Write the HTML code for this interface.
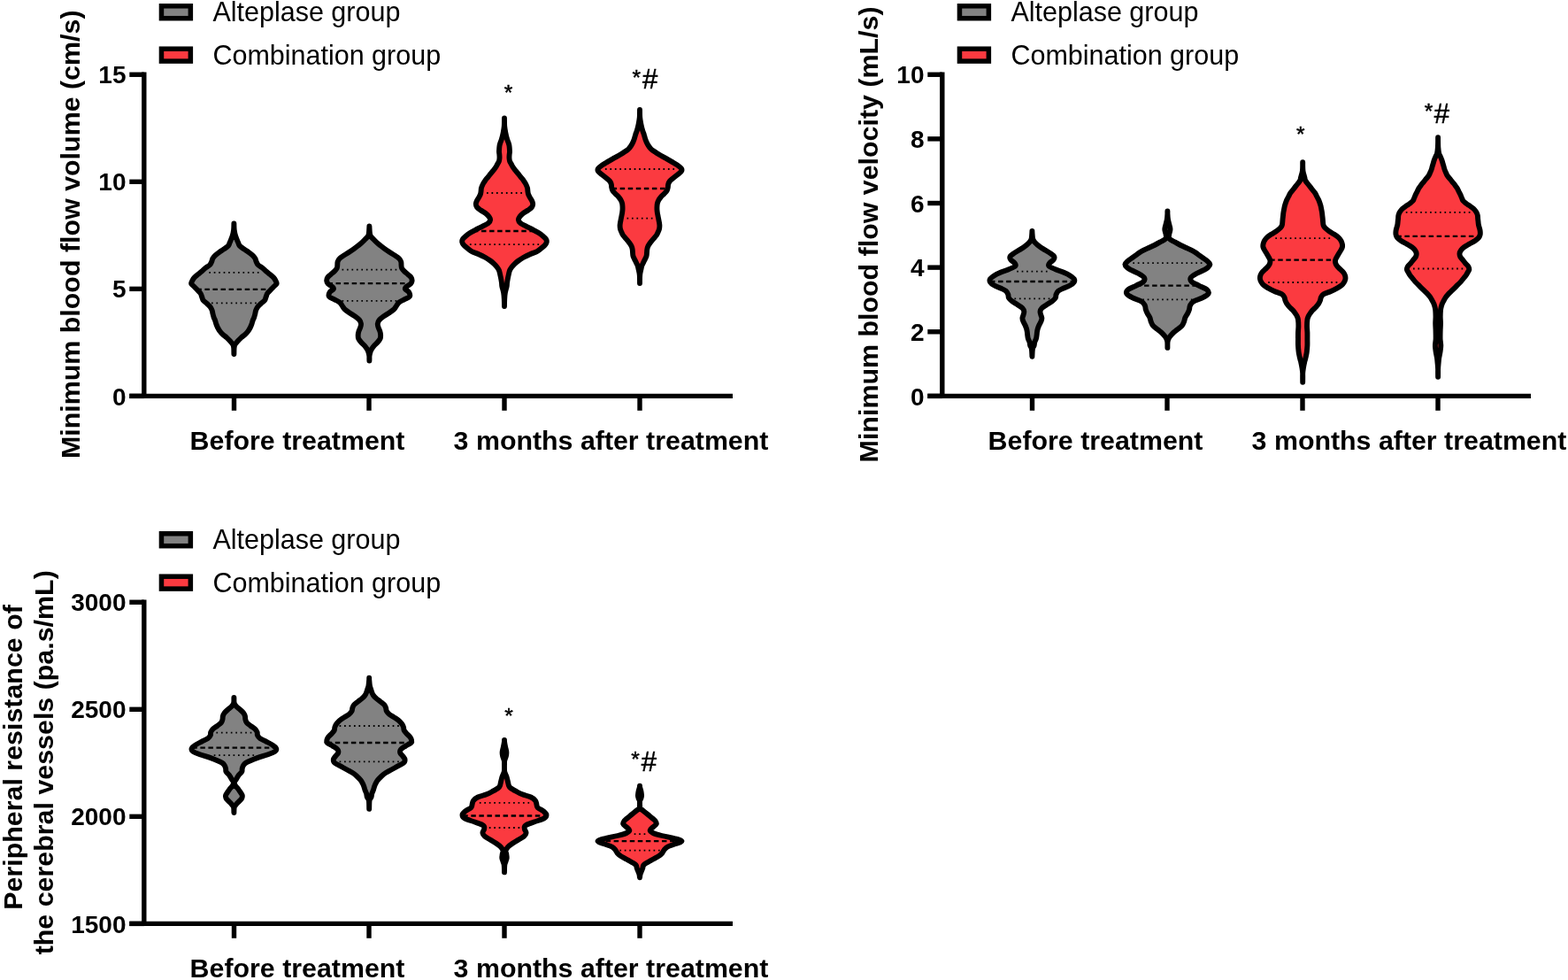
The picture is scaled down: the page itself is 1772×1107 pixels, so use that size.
<!DOCTYPE html>
<html><head><meta charset="utf-8"><title>Violin plots</title>
<style>html,body{margin:0;padding:0;background:#fff;width:1772px;height:1107px;overflow:hidden}svg{display:block}</style>
</head><body>
<svg width="1772" height="1107" viewBox="0 0 1772 1107" font-family="'Liberation Sans', Arial, sans-serif">
<rect width="1772" height="1107" fill="#fff"/>
<line x1="162.8" y1="81.55" x2="162.8" y2="447.4" stroke="#000" stroke-width="5.4"/>
<line x1="146.3" y1="447.4" x2="828" y2="447.4" stroke="#000" stroke-width="5.4"/>
<line x1="146.3" y1="447.4" x2="162.8" y2="447.4" stroke="#000" stroke-width="5.4"/>
<text x="142.5" y="457.5" font-size="28" font-weight="bold" text-anchor="end">0</text>
<line x1="146.3" y1="326.34999999999997" x2="162.8" y2="326.34999999999997" stroke="#000" stroke-width="5.4"/>
<text x="142.5" y="336.45" font-size="28" font-weight="bold" text-anchor="end">5</text>
<line x1="146.3" y1="205.29999999999998" x2="162.8" y2="205.29999999999998" stroke="#000" stroke-width="5.4"/>
<text x="142.5" y="215.39999999999998" font-size="28" font-weight="bold" text-anchor="end">10</text>
<line x1="146.3" y1="84.25000000000006" x2="162.8" y2="84.25000000000006" stroke="#000" stroke-width="5.4"/>
<text x="142.5" y="94.35000000000005" font-size="28" font-weight="bold" text-anchor="end">15</text>
<line x1="264.5" y1="447.4" x2="264.5" y2="463.8" stroke="#000" stroke-width="5.4"/>
<line x1="417" y1="447.4" x2="417" y2="463.8" stroke="#000" stroke-width="5.4"/>
<line x1="570" y1="447.4" x2="570" y2="463.8" stroke="#000" stroke-width="5.4"/>
<line x1="723" y1="447.4" x2="723" y2="463.8" stroke="#000" stroke-width="5.4"/>
<text x="336" y="508.1" font-size="30.35" font-weight="bold" text-anchor="middle">Before treatment</text>
<text x="690.5" y="508.1" font-size="30.35" font-weight="bold" text-anchor="middle">3 months after treatment</text>
<rect x="182.45" y="6.8" width="32.9" height="13.9" fill="#828282" stroke="#000" stroke-width="5.5"/>
<text x="240.4" y="24.4" font-size="30.5">Alteplase group</text>
<rect x="182.45" y="55.199999999999996" width="32.9" height="13.9" fill="#fb3a40" stroke="#000" stroke-width="5.5"/>
<text x="240.4" y="72.8" font-size="30.5">Combination group</text>
<text transform="translate(90.4,264.75) rotate(-90)" font-size="30.4" font-weight="bold" text-anchor="middle">Minimum blood flow volume (cm/s)</text>
<line x1="1064.8" y1="81.55" x2="1064.8" y2="447.4" stroke="#000" stroke-width="5.4"/>
<line x1="1048.3" y1="447.4" x2="1730" y2="447.4" stroke="#000" stroke-width="5.4"/>
<line x1="1048.3" y1="447.4" x2="1064.8" y2="447.4" stroke="#000" stroke-width="5.4"/>
<text x="1044.5" y="457.5" font-size="28" font-weight="bold" text-anchor="end">0</text>
<line x1="1048.3" y1="374.77" x2="1064.8" y2="374.77" stroke="#000" stroke-width="5.4"/>
<text x="1044.5" y="384.87" font-size="28" font-weight="bold" text-anchor="end">2</text>
<line x1="1048.3" y1="302.14" x2="1064.8" y2="302.14" stroke="#000" stroke-width="5.4"/>
<text x="1044.5" y="312.24" font-size="28" font-weight="bold" text-anchor="end">4</text>
<line x1="1048.3" y1="229.51000000000002" x2="1064.8" y2="229.51000000000002" stroke="#000" stroke-width="5.4"/>
<text x="1044.5" y="239.61" font-size="28" font-weight="bold" text-anchor="end">6</text>
<line x1="1048.3" y1="156.88" x2="1064.8" y2="156.88" stroke="#000" stroke-width="5.4"/>
<text x="1044.5" y="166.98" font-size="28" font-weight="bold" text-anchor="end">8</text>
<line x1="1048.3" y1="84.25" x2="1064.8" y2="84.25" stroke="#000" stroke-width="5.4"/>
<text x="1044.5" y="94.35" font-size="28" font-weight="bold" text-anchor="end">10</text>
<line x1="1166.5" y1="447.4" x2="1166.5" y2="463.8" stroke="#000" stroke-width="5.4"/>
<line x1="1319" y1="447.4" x2="1319" y2="463.8" stroke="#000" stroke-width="5.4"/>
<line x1="1472" y1="447.4" x2="1472" y2="463.8" stroke="#000" stroke-width="5.4"/>
<line x1="1625" y1="447.4" x2="1625" y2="463.8" stroke="#000" stroke-width="5.4"/>
<text x="1238" y="508.1" font-size="30.35" font-weight="bold" text-anchor="middle">Before treatment</text>
<text x="1592.5" y="508.1" font-size="30.35" font-weight="bold" text-anchor="middle">3 months after treatment</text>
<rect x="1084.45" y="6.8" width="32.9" height="13.9" fill="#828282" stroke="#000" stroke-width="5.5"/>
<text x="1142.4" y="24.4" font-size="30.5">Alteplase group</text>
<rect x="1084.45" y="55.199999999999996" width="32.9" height="13.9" fill="#fb3a40" stroke="#000" stroke-width="5.5"/>
<text x="1142.4" y="72.8" font-size="30.5">Combination group</text>
<text transform="translate(992.3,264.9) rotate(-90)" font-size="30.4" font-weight="bold" text-anchor="middle">Minimum blood flow velocity (mL/s)</text>
<line x1="162.8" y1="677.55" x2="162.8" y2="1043.4" stroke="#000" stroke-width="5.4"/>
<line x1="146.3" y1="1043.4" x2="828" y2="1043.4" stroke="#000" stroke-width="5.4"/>
<line x1="146.3" y1="1043.4" x2="162.8" y2="1043.4" stroke="#000" stroke-width="5.4"/>
<text x="142.5" y="1053.5" font-size="28" font-weight="bold" text-anchor="end">1500</text>
<line x1="146.3" y1="922.35" x2="162.8" y2="922.35" stroke="#000" stroke-width="5.4"/>
<text x="142.5" y="932.45" font-size="28" font-weight="bold" text-anchor="end">2000</text>
<line x1="146.3" y1="801.3000000000001" x2="162.8" y2="801.3000000000001" stroke="#000" stroke-width="5.4"/>
<text x="142.5" y="811.4000000000001" font-size="28" font-weight="bold" text-anchor="end">2500</text>
<line x1="146.3" y1="680.25" x2="162.8" y2="680.25" stroke="#000" stroke-width="5.4"/>
<text x="142.5" y="690.35" font-size="28" font-weight="bold" text-anchor="end">3000</text>
<line x1="264.5" y1="1043.4" x2="264.5" y2="1059.8" stroke="#000" stroke-width="5.4"/>
<line x1="417" y1="1043.4" x2="417" y2="1059.8" stroke="#000" stroke-width="5.4"/>
<line x1="570" y1="1043.4" x2="570" y2="1059.8" stroke="#000" stroke-width="5.4"/>
<line x1="723" y1="1043.4" x2="723" y2="1059.8" stroke="#000" stroke-width="5.4"/>
<text x="336" y="1104.1" font-size="30.35" font-weight="bold" text-anchor="middle">Before treatment</text>
<text x="690.5" y="1104.1" font-size="30.35" font-weight="bold" text-anchor="middle">3 months after treatment</text>
<rect x="182.45" y="602.8" width="32.9" height="13.9" fill="#828282" stroke="#000" stroke-width="5.5"/>
<text x="240.4" y="620.4" font-size="30.5">Alteplase group</text>
<rect x="182.45" y="651.1999999999999" width="32.9" height="13.9" fill="#fb3a40" stroke="#000" stroke-width="5.5"/>
<text x="240.4" y="668.8" font-size="30.5">Combination group</text>
<text transform="translate(24.6,855.45) rotate(-90)" font-size="30.4" font-weight="bold" text-anchor="middle">Peripheral resistance of</text>
<text transform="translate(60.2,861.3) rotate(-90)" font-size="30.4" font-weight="bold" text-anchor="middle">the cerebral vessels (pa.s/mL)</text>
<path d="M264.40,252.50 C264.45,253.67 264.40,257.13 264.70,259.50 C265.00,261.87 265.47,264.30 266.20,266.70 C266.93,269.10 268.35,272.10 269.10,273.90 C269.85,275.70 269.65,276.28 270.70,277.50 C271.75,278.72 273.70,279.98 275.40,281.20 C277.10,282.42 279.23,283.60 280.90,284.80 C282.57,286.00 284.15,287.20 285.40,288.40 C286.65,289.60 287.70,290.80 288.40,292.00 C289.10,293.20 289.05,294.40 289.60,295.60 C290.15,296.80 290.52,298.00 291.70,299.20 C292.88,300.40 295.18,301.58 296.70,302.80 C298.22,304.02 299.38,305.28 300.80,306.50 C302.22,307.72 303.77,308.90 305.20,310.10 C306.63,311.30 308.33,312.50 309.40,313.70 C310.47,314.90 311.07,316.17 311.60,317.30 C312.13,318.43 312.97,319.42 312.60,320.50 C312.23,321.58 310.57,322.60 309.40,323.80 C308.23,325.00 306.82,326.42 305.60,327.70 C304.38,328.98 302.93,330.22 302.10,331.50 C301.27,332.78 301.10,334.12 300.60,335.40 C300.10,336.68 300.07,337.93 299.10,339.20 C298.13,340.47 296.15,341.72 294.80,343.00 C293.45,344.28 291.95,345.62 291.00,346.90 C290.05,348.18 289.55,349.43 289.10,350.70 C288.65,351.97 288.62,353.22 288.30,354.50 C287.98,355.78 287.65,357.12 287.20,358.40 C286.75,359.68 286.05,360.92 285.60,362.20 C285.15,363.48 284.95,364.82 284.50,366.10 C284.05,367.38 283.55,368.63 282.90,369.90 C282.25,371.17 281.55,372.42 280.60,373.70 C279.65,374.98 278.53,376.32 277.20,377.60 C275.87,378.88 274.02,380.12 272.60,381.40 C271.18,382.68 269.87,384.02 268.70,385.30 C267.53,386.58 266.28,387.83 265.60,389.10 C264.92,390.37 264.80,391.08 264.60,392.90 C264.40,394.72 264.43,398.82 264.40,400.00 L264.40,400.00 C264.37,398.82 264.40,394.72 264.20,392.90 C264.00,391.08 263.88,390.37 263.20,389.10 C262.52,387.83 261.27,386.58 260.10,385.30 C258.93,384.02 257.62,382.68 256.20,381.40 C254.78,380.12 252.93,378.88 251.60,377.60 C250.27,376.32 249.15,374.98 248.20,373.70 C247.25,372.42 246.55,371.17 245.90,369.90 C245.25,368.63 244.75,367.38 244.30,366.10 C243.85,364.82 243.65,363.48 243.20,362.20 C242.75,360.92 242.05,359.68 241.60,358.40 C241.15,357.12 240.82,355.78 240.50,354.50 C240.18,353.22 240.15,351.97 239.70,350.70 C239.25,349.43 238.75,348.18 237.80,346.90 C236.85,345.62 235.35,344.28 234.00,343.00 C232.65,341.72 230.67,340.47 229.70,339.20 C228.73,337.93 228.70,336.68 228.20,335.40 C227.70,334.12 227.53,332.78 226.70,331.50 C225.87,330.22 224.42,328.98 223.20,327.70 C221.98,326.42 220.57,325.00 219.40,323.80 C218.23,322.60 216.57,321.58 216.20,320.50 C215.83,319.42 216.67,318.43 217.20,317.30 C217.73,316.17 218.33,314.90 219.40,313.70 C220.47,312.50 222.17,311.30 223.60,310.10 C225.03,308.90 226.58,307.72 228.00,306.50 C229.42,305.28 230.58,304.02 232.10,302.80 C233.62,301.58 235.92,300.40 237.10,299.20 C238.28,298.00 238.65,296.80 239.20,295.60 C239.75,294.40 239.70,293.20 240.40,292.00 C241.10,290.80 242.15,289.60 243.40,288.40 C244.65,287.20 246.23,286.00 247.90,284.80 C249.57,283.60 251.70,282.42 253.40,281.20 C255.10,279.98 257.05,278.72 258.10,277.50 C259.15,276.28 258.95,275.70 259.70,273.90 C260.45,272.10 261.87,269.10 262.60,266.70 C263.33,264.30 263.80,261.87 264.10,259.50 C264.40,257.13 264.35,253.67 264.40,252.50 Z" fill="#828282" stroke="none"/>
<line x1="236.25" y1="307.9" x2="292.55" y2="307.9" stroke="#000" stroke-width="1.8" stroke-dasharray="1.7 3.76"/>
<line x1="222.32" y1="326.8" x2="306.48" y2="326.8" stroke="#000" stroke-width="2.3" stroke-dasharray="5.5 3.56"/>
<line x1="238.98" y1="342.4" x2="289.82" y2="342.4" stroke="#000" stroke-width="1.8" stroke-dasharray="1.7 3.76"/>
<path d="M264.40,252.50 C264.45,253.67 264.40,257.13 264.70,259.50 C265.00,261.87 265.47,264.30 266.20,266.70 C266.93,269.10 268.35,272.10 269.10,273.90 C269.85,275.70 269.65,276.28 270.70,277.50 C271.75,278.72 273.70,279.98 275.40,281.20 C277.10,282.42 279.23,283.60 280.90,284.80 C282.57,286.00 284.15,287.20 285.40,288.40 C286.65,289.60 287.70,290.80 288.40,292.00 C289.10,293.20 289.05,294.40 289.60,295.60 C290.15,296.80 290.52,298.00 291.70,299.20 C292.88,300.40 295.18,301.58 296.70,302.80 C298.22,304.02 299.38,305.28 300.80,306.50 C302.22,307.72 303.77,308.90 305.20,310.10 C306.63,311.30 308.33,312.50 309.40,313.70 C310.47,314.90 311.07,316.17 311.60,317.30 C312.13,318.43 312.97,319.42 312.60,320.50 C312.23,321.58 310.57,322.60 309.40,323.80 C308.23,325.00 306.82,326.42 305.60,327.70 C304.38,328.98 302.93,330.22 302.10,331.50 C301.27,332.78 301.10,334.12 300.60,335.40 C300.10,336.68 300.07,337.93 299.10,339.20 C298.13,340.47 296.15,341.72 294.80,343.00 C293.45,344.28 291.95,345.62 291.00,346.90 C290.05,348.18 289.55,349.43 289.10,350.70 C288.65,351.97 288.62,353.22 288.30,354.50 C287.98,355.78 287.65,357.12 287.20,358.40 C286.75,359.68 286.05,360.92 285.60,362.20 C285.15,363.48 284.95,364.82 284.50,366.10 C284.05,367.38 283.55,368.63 282.90,369.90 C282.25,371.17 281.55,372.42 280.60,373.70 C279.65,374.98 278.53,376.32 277.20,377.60 C275.87,378.88 274.02,380.12 272.60,381.40 C271.18,382.68 269.87,384.02 268.70,385.30 C267.53,386.58 266.28,387.83 265.60,389.10 C264.92,390.37 264.80,391.08 264.60,392.90 C264.40,394.72 264.43,398.82 264.40,400.00 L264.40,400.00 C264.37,398.82 264.40,394.72 264.20,392.90 C264.00,391.08 263.88,390.37 263.20,389.10 C262.52,387.83 261.27,386.58 260.10,385.30 C258.93,384.02 257.62,382.68 256.20,381.40 C254.78,380.12 252.93,378.88 251.60,377.60 C250.27,376.32 249.15,374.98 248.20,373.70 C247.25,372.42 246.55,371.17 245.90,369.90 C245.25,368.63 244.75,367.38 244.30,366.10 C243.85,364.82 243.65,363.48 243.20,362.20 C242.75,360.92 242.05,359.68 241.60,358.40 C241.15,357.12 240.82,355.78 240.50,354.50 C240.18,353.22 240.15,351.97 239.70,350.70 C239.25,349.43 238.75,348.18 237.80,346.90 C236.85,345.62 235.35,344.28 234.00,343.00 C232.65,341.72 230.67,340.47 229.70,339.20 C228.73,337.93 228.70,336.68 228.20,335.40 C227.70,334.12 227.53,332.78 226.70,331.50 C225.87,330.22 224.42,328.98 223.20,327.70 C221.98,326.42 220.57,325.00 219.40,323.80 C218.23,322.60 216.57,321.58 216.20,320.50 C215.83,319.42 216.67,318.43 217.20,317.30 C217.73,316.17 218.33,314.90 219.40,313.70 C220.47,312.50 222.17,311.30 223.60,310.10 C225.03,308.90 226.58,307.72 228.00,306.50 C229.42,305.28 230.58,304.02 232.10,302.80 C233.62,301.58 235.92,300.40 237.10,299.20 C238.28,298.00 238.65,296.80 239.20,295.60 C239.75,294.40 239.70,293.20 240.40,292.00 C241.10,290.80 242.15,289.60 243.40,288.40 C244.65,287.20 246.23,286.00 247.90,284.80 C249.57,283.60 251.70,282.42 253.40,281.20 C255.10,279.98 257.05,278.72 258.10,277.50 C259.15,276.28 258.95,275.70 259.70,273.90 C260.45,272.10 261.87,269.10 262.60,266.70 C263.33,264.30 263.80,261.87 264.10,259.50 C264.40,257.13 264.35,253.67 264.40,252.50 Z" fill="none" stroke="#000" stroke-width="5.9" stroke-linejoin="round" stroke-linecap="round"/>
<path d="M417.40,255.50 C417.48,256.77 417.65,261.23 417.90,263.10 C418.15,264.97 418.20,265.50 418.90,266.70 C419.60,267.90 420.97,269.10 422.10,270.30 C423.23,271.50 424.37,272.70 425.70,273.90 C427.03,275.10 428.58,276.30 430.10,277.50 C431.62,278.70 433.12,279.88 434.80,281.10 C436.48,282.32 438.33,283.58 440.20,284.80 C442.07,286.02 444.20,287.20 446.00,288.40 C447.80,289.60 449.80,290.80 451.00,292.00 C452.20,293.20 452.78,294.40 453.20,295.60 C453.62,296.80 453.37,298.00 453.50,299.20 C453.63,300.40 453.45,301.60 454.00,302.80 C454.55,304.00 455.62,305.18 456.80,306.40 C457.98,307.62 459.77,308.88 461.10,310.10 C462.43,311.32 464.05,312.50 464.80,313.70 C465.55,314.90 465.70,316.17 465.60,317.30 C465.50,318.43 465.32,319.35 464.20,320.50 C463.08,321.65 459.93,323.18 458.90,324.20 C457.87,325.22 457.47,325.63 458.00,326.60 C458.53,327.57 461.28,328.60 462.10,330.00 C462.92,331.40 463.80,333.62 462.90,335.00 C462.00,336.38 458.70,337.20 456.70,338.30 C454.70,339.40 452.28,340.50 450.90,341.60 C449.52,342.70 449.30,343.65 448.40,344.90 C447.50,346.15 446.88,347.72 445.50,349.10 C444.12,350.48 442.10,351.82 440.10,353.20 C438.10,354.58 435.43,356.00 433.50,357.40 C431.57,358.80 429.62,360.22 428.50,361.60 C427.38,362.98 426.95,364.32 426.80,365.70 C426.65,367.08 427.18,368.52 427.60,369.90 C428.02,371.28 428.88,372.62 429.30,374.00 C429.72,375.38 430.03,376.82 430.10,378.20 C430.17,379.58 430.25,380.92 429.70,382.30 C429.15,383.68 427.97,385.12 426.80,386.50 C425.63,387.88 423.88,389.22 422.70,390.60 C421.52,391.98 420.47,393.42 419.70,394.80 C418.93,396.18 418.48,397.52 418.10,398.90 C417.72,400.28 417.52,401.67 417.40,403.10 C417.28,404.53 417.40,406.77 417.40,407.50 L417.40,407.50 C417.40,406.77 417.52,404.53 417.40,403.10 C417.28,401.67 417.08,400.28 416.70,398.90 C416.32,397.52 415.87,396.18 415.10,394.80 C414.33,393.42 413.28,391.98 412.10,390.60 C410.92,389.22 409.17,387.88 408.00,386.50 C406.83,385.12 405.65,383.68 405.10,382.30 C404.55,380.92 404.63,379.58 404.70,378.20 C404.77,376.82 405.08,375.38 405.50,374.00 C405.92,372.62 406.78,371.28 407.20,369.90 C407.62,368.52 408.15,367.08 408.00,365.70 C407.85,364.32 407.42,362.98 406.30,361.60 C405.18,360.22 403.23,358.80 401.30,357.40 C399.37,356.00 396.70,354.58 394.70,353.20 C392.70,351.82 390.68,350.48 389.30,349.10 C387.92,347.72 387.30,346.15 386.40,344.90 C385.50,343.65 385.28,342.70 383.90,341.60 C382.52,340.50 380.10,339.40 378.10,338.30 C376.10,337.20 372.80,336.38 371.90,335.00 C371.00,333.62 371.88,331.40 372.70,330.00 C373.52,328.60 376.27,327.57 376.80,326.60 C377.33,325.63 376.93,325.22 375.90,324.20 C374.87,323.18 371.72,321.65 370.60,320.50 C369.48,319.35 369.30,318.43 369.20,317.30 C369.10,316.17 369.25,314.90 370.00,313.70 C370.75,312.50 372.37,311.32 373.70,310.10 C375.03,308.88 376.82,307.62 378.00,306.40 C379.18,305.18 380.25,304.00 380.80,302.80 C381.35,301.60 381.17,300.40 381.30,299.20 C381.43,298.00 381.18,296.80 381.60,295.60 C382.02,294.40 382.60,293.20 383.80,292.00 C385.00,290.80 387.00,289.60 388.80,288.40 C390.60,287.20 392.73,286.02 394.60,284.80 C396.47,283.58 398.32,282.32 400.00,281.10 C401.68,279.88 403.18,278.70 404.70,277.50 C406.22,276.30 407.77,275.10 409.10,273.90 C410.43,272.70 411.57,271.50 412.70,270.30 C413.83,269.10 415.20,267.90 415.90,266.70 C416.60,265.50 416.65,264.97 416.90,263.10 C417.15,261.23 417.32,256.77 417.40,255.50 Z" fill="#828282" stroke="none"/>
<line x1="386.52" y1="304.6" x2="448.28" y2="304.6" stroke="#000" stroke-width="1.8" stroke-dasharray="1.7 3.76"/>
<line x1="370.47" y1="320.2" x2="464.33" y2="320.2" stroke="#000" stroke-width="2.3" stroke-dasharray="5.5 3.56"/>
<line x1="386.52" y1="339.9" x2="448.28" y2="339.9" stroke="#000" stroke-width="1.8" stroke-dasharray="1.7 3.76"/>
<path d="M417.40,255.50 C417.48,256.77 417.65,261.23 417.90,263.10 C418.15,264.97 418.20,265.50 418.90,266.70 C419.60,267.90 420.97,269.10 422.10,270.30 C423.23,271.50 424.37,272.70 425.70,273.90 C427.03,275.10 428.58,276.30 430.10,277.50 C431.62,278.70 433.12,279.88 434.80,281.10 C436.48,282.32 438.33,283.58 440.20,284.80 C442.07,286.02 444.20,287.20 446.00,288.40 C447.80,289.60 449.80,290.80 451.00,292.00 C452.20,293.20 452.78,294.40 453.20,295.60 C453.62,296.80 453.37,298.00 453.50,299.20 C453.63,300.40 453.45,301.60 454.00,302.80 C454.55,304.00 455.62,305.18 456.80,306.40 C457.98,307.62 459.77,308.88 461.10,310.10 C462.43,311.32 464.05,312.50 464.80,313.70 C465.55,314.90 465.70,316.17 465.60,317.30 C465.50,318.43 465.32,319.35 464.20,320.50 C463.08,321.65 459.93,323.18 458.90,324.20 C457.87,325.22 457.47,325.63 458.00,326.60 C458.53,327.57 461.28,328.60 462.10,330.00 C462.92,331.40 463.80,333.62 462.90,335.00 C462.00,336.38 458.70,337.20 456.70,338.30 C454.70,339.40 452.28,340.50 450.90,341.60 C449.52,342.70 449.30,343.65 448.40,344.90 C447.50,346.15 446.88,347.72 445.50,349.10 C444.12,350.48 442.10,351.82 440.10,353.20 C438.10,354.58 435.43,356.00 433.50,357.40 C431.57,358.80 429.62,360.22 428.50,361.60 C427.38,362.98 426.95,364.32 426.80,365.70 C426.65,367.08 427.18,368.52 427.60,369.90 C428.02,371.28 428.88,372.62 429.30,374.00 C429.72,375.38 430.03,376.82 430.10,378.20 C430.17,379.58 430.25,380.92 429.70,382.30 C429.15,383.68 427.97,385.12 426.80,386.50 C425.63,387.88 423.88,389.22 422.70,390.60 C421.52,391.98 420.47,393.42 419.70,394.80 C418.93,396.18 418.48,397.52 418.10,398.90 C417.72,400.28 417.52,401.67 417.40,403.10 C417.28,404.53 417.40,406.77 417.40,407.50 L417.40,407.50 C417.40,406.77 417.52,404.53 417.40,403.10 C417.28,401.67 417.08,400.28 416.70,398.90 C416.32,397.52 415.87,396.18 415.10,394.80 C414.33,393.42 413.28,391.98 412.10,390.60 C410.92,389.22 409.17,387.88 408.00,386.50 C406.83,385.12 405.65,383.68 405.10,382.30 C404.55,380.92 404.63,379.58 404.70,378.20 C404.77,376.82 405.08,375.38 405.50,374.00 C405.92,372.62 406.78,371.28 407.20,369.90 C407.62,368.52 408.15,367.08 408.00,365.70 C407.85,364.32 407.42,362.98 406.30,361.60 C405.18,360.22 403.23,358.80 401.30,357.40 C399.37,356.00 396.70,354.58 394.70,353.20 C392.70,351.82 390.68,350.48 389.30,349.10 C387.92,347.72 387.30,346.15 386.40,344.90 C385.50,343.65 385.28,342.70 383.90,341.60 C382.52,340.50 380.10,339.40 378.10,338.30 C376.10,337.20 372.80,336.38 371.90,335.00 C371.00,333.62 371.88,331.40 372.70,330.00 C373.52,328.60 376.27,327.57 376.80,326.60 C377.33,325.63 376.93,325.22 375.90,324.20 C374.87,323.18 371.72,321.65 370.60,320.50 C369.48,319.35 369.30,318.43 369.20,317.30 C369.10,316.17 369.25,314.90 370.00,313.70 C370.75,312.50 372.37,311.32 373.70,310.10 C375.03,308.88 376.82,307.62 378.00,306.40 C379.18,305.18 380.25,304.00 380.80,302.80 C381.35,301.60 381.17,300.40 381.30,299.20 C381.43,298.00 381.18,296.80 381.60,295.60 C382.02,294.40 382.60,293.20 383.80,292.00 C385.00,290.80 387.00,289.60 388.80,288.40 C390.60,287.20 392.73,286.02 394.60,284.80 C396.47,283.58 398.32,282.32 400.00,281.10 C401.68,279.88 403.18,278.70 404.70,277.50 C406.22,276.30 407.77,275.10 409.10,273.90 C410.43,272.70 411.57,271.50 412.70,270.30 C413.83,269.10 415.20,267.90 415.90,266.70 C416.60,265.50 416.65,264.97 416.90,263.10 C417.15,261.23 417.32,256.77 417.40,255.50 Z" fill="none" stroke="#000" stroke-width="5.9" stroke-linejoin="round" stroke-linecap="round"/>
<path d="M570.00,133.50 C570.03,135.00 569.98,139.80 570.20,142.50 C570.42,145.20 570.83,147.30 571.30,149.70 C571.77,152.10 572.50,155.10 573.00,156.90 C573.50,158.70 573.90,159.30 574.30,160.50 C574.70,161.70 575.15,162.88 575.40,164.10 C575.65,165.32 575.70,166.58 575.80,167.80 C575.90,169.02 576.03,170.20 576.00,171.40 C575.97,172.60 575.68,173.80 575.60,175.00 C575.52,176.20 575.42,177.40 575.50,178.60 C575.58,179.80 575.68,181.00 576.10,182.20 C576.52,183.40 577.33,184.60 578.00,185.80 C578.67,187.00 579.27,188.18 580.10,189.40 C580.93,190.62 582.03,191.88 583.00,193.10 C583.97,194.32 584.93,195.50 585.90,196.70 C586.87,197.90 587.83,199.10 588.80,200.30 C589.77,201.50 590.83,202.70 591.70,203.90 C592.57,205.10 593.28,206.12 594.00,207.50 C594.72,208.88 595.60,210.82 596.00,212.20 C596.40,213.58 596.22,214.58 596.40,215.80 C596.58,217.02 596.68,218.28 597.10,219.50 C597.52,220.72 598.23,221.90 598.90,223.10 C599.57,224.30 600.55,225.50 601.10,226.70 C601.65,227.90 602.20,229.10 602.20,230.30 C602.20,231.50 602.02,232.70 601.10,233.90 C600.18,235.10 598.38,236.30 596.70,237.50 C595.02,238.70 592.55,239.88 591.00,241.10 C589.45,242.32 588.25,243.58 587.40,244.80 C586.55,246.02 585.78,247.20 585.90,248.40 C586.02,249.60 586.65,250.80 588.10,252.00 C589.55,253.20 592.32,254.40 594.60,255.60 C596.88,256.80 599.52,258.00 601.80,259.20 C604.08,260.40 606.37,261.60 608.30,262.80 C610.23,264.00 611.95,265.18 613.40,266.40 C614.85,267.62 616.28,268.88 617.00,270.10 C617.72,271.32 617.95,272.50 617.70,273.70 C617.45,274.90 616.58,276.10 615.50,277.30 C614.42,278.50 612.73,279.73 611.20,280.90 C609.67,282.07 608.35,283.25 606.30,284.30 C604.25,285.35 601.33,286.12 598.90,287.20 C596.47,288.28 593.87,289.58 591.70,290.80 C589.53,292.02 587.58,293.28 585.90,294.50 C584.22,295.72 582.87,296.90 581.60,298.10 C580.33,299.30 579.22,300.50 578.30,301.70 C577.38,302.90 576.63,304.10 576.10,305.30 C575.57,306.50 575.40,307.70 575.10,308.90 C574.80,310.10 574.55,311.30 574.30,312.50 C574.05,313.70 573.82,314.88 573.60,316.10 C573.38,317.32 573.15,318.58 573.00,319.80 C572.85,321.02 573.05,321.60 572.70,323.40 C572.35,325.20 571.32,328.20 570.90,330.60 C570.48,333.00 570.35,335.23 570.20,337.80 C570.05,340.37 570.03,344.63 570.00,346.00 L570.00,346.00 C569.97,344.63 569.95,340.37 569.80,337.80 C569.65,335.23 569.52,333.00 569.10,330.60 C568.68,328.20 567.65,325.20 567.30,323.40 C566.95,321.60 567.15,321.02 567.00,319.80 C566.85,318.58 566.62,317.32 566.40,316.10 C566.18,314.88 565.95,313.70 565.70,312.50 C565.45,311.30 565.20,310.10 564.90,308.90 C564.60,307.70 564.43,306.50 563.90,305.30 C563.37,304.10 562.62,302.90 561.70,301.70 C560.78,300.50 559.67,299.30 558.40,298.10 C557.13,296.90 555.78,295.72 554.10,294.50 C552.42,293.28 550.47,292.02 548.30,290.80 C546.13,289.58 543.53,288.28 541.10,287.20 C538.67,286.12 535.75,285.35 533.70,284.30 C531.65,283.25 530.33,282.07 528.80,280.90 C527.27,279.73 525.58,278.50 524.50,277.30 C523.42,276.10 522.55,274.90 522.30,273.70 C522.05,272.50 522.28,271.32 523.00,270.10 C523.72,268.88 525.15,267.62 526.60,266.40 C528.05,265.18 529.77,264.00 531.70,262.80 C533.63,261.60 535.92,260.40 538.20,259.20 C540.48,258.00 543.12,256.80 545.40,255.60 C547.68,254.40 550.45,253.20 551.90,252.00 C553.35,250.80 553.98,249.60 554.10,248.40 C554.22,247.20 553.45,246.02 552.60,244.80 C551.75,243.58 550.55,242.32 549.00,241.10 C547.45,239.88 544.98,238.70 543.30,237.50 C541.62,236.30 539.82,235.10 538.90,233.90 C537.98,232.70 537.80,231.50 537.80,230.30 C537.80,229.10 538.35,227.90 538.90,226.70 C539.45,225.50 540.43,224.30 541.10,223.10 C541.77,221.90 542.48,220.72 542.90,219.50 C543.32,218.28 543.42,217.02 543.60,215.80 C543.78,214.58 543.60,213.58 544.00,212.20 C544.40,210.82 545.28,208.88 546.00,207.50 C546.72,206.12 547.43,205.10 548.30,203.90 C549.17,202.70 550.23,201.50 551.20,200.30 C552.17,199.10 553.13,197.90 554.10,196.70 C555.07,195.50 556.03,194.32 557.00,193.10 C557.97,191.88 559.07,190.62 559.90,189.40 C560.73,188.18 561.33,187.00 562.00,185.80 C562.67,184.60 563.48,183.40 563.90,182.20 C564.32,181.00 564.42,179.80 564.50,178.60 C564.58,177.40 564.48,176.20 564.40,175.00 C564.32,173.80 564.03,172.60 564.00,171.40 C563.97,170.20 564.10,169.02 564.20,167.80 C564.30,166.58 564.35,165.32 564.60,164.10 C564.85,162.88 565.30,161.70 565.70,160.50 C566.10,159.30 566.50,158.70 567.00,156.90 C567.50,155.10 568.23,152.10 568.70,149.70 C569.17,147.30 569.58,145.20 569.80,142.50 C570.02,139.80 569.97,135.00 570.00,133.50 Z" fill="#fb3a40" stroke="none"/>
<line x1="550.04" y1="218" x2="589.96" y2="218" stroke="#000" stroke-width="1.8" stroke-dasharray="1.7 3.76"/>
<line x1="534.95" y1="261" x2="605.05" y2="261" stroke="#000" stroke-width="2.3" stroke-dasharray="5.5 3.56"/>
<line x1="530.93" y1="276.2" x2="609.07" y2="276.2" stroke="#000" stroke-width="1.8" stroke-dasharray="1.7 3.76"/>
<path d="M570.00,133.50 C570.03,135.00 569.98,139.80 570.20,142.50 C570.42,145.20 570.83,147.30 571.30,149.70 C571.77,152.10 572.50,155.10 573.00,156.90 C573.50,158.70 573.90,159.30 574.30,160.50 C574.70,161.70 575.15,162.88 575.40,164.10 C575.65,165.32 575.70,166.58 575.80,167.80 C575.90,169.02 576.03,170.20 576.00,171.40 C575.97,172.60 575.68,173.80 575.60,175.00 C575.52,176.20 575.42,177.40 575.50,178.60 C575.58,179.80 575.68,181.00 576.10,182.20 C576.52,183.40 577.33,184.60 578.00,185.80 C578.67,187.00 579.27,188.18 580.10,189.40 C580.93,190.62 582.03,191.88 583.00,193.10 C583.97,194.32 584.93,195.50 585.90,196.70 C586.87,197.90 587.83,199.10 588.80,200.30 C589.77,201.50 590.83,202.70 591.70,203.90 C592.57,205.10 593.28,206.12 594.00,207.50 C594.72,208.88 595.60,210.82 596.00,212.20 C596.40,213.58 596.22,214.58 596.40,215.80 C596.58,217.02 596.68,218.28 597.10,219.50 C597.52,220.72 598.23,221.90 598.90,223.10 C599.57,224.30 600.55,225.50 601.10,226.70 C601.65,227.90 602.20,229.10 602.20,230.30 C602.20,231.50 602.02,232.70 601.10,233.90 C600.18,235.10 598.38,236.30 596.70,237.50 C595.02,238.70 592.55,239.88 591.00,241.10 C589.45,242.32 588.25,243.58 587.40,244.80 C586.55,246.02 585.78,247.20 585.90,248.40 C586.02,249.60 586.65,250.80 588.10,252.00 C589.55,253.20 592.32,254.40 594.60,255.60 C596.88,256.80 599.52,258.00 601.80,259.20 C604.08,260.40 606.37,261.60 608.30,262.80 C610.23,264.00 611.95,265.18 613.40,266.40 C614.85,267.62 616.28,268.88 617.00,270.10 C617.72,271.32 617.95,272.50 617.70,273.70 C617.45,274.90 616.58,276.10 615.50,277.30 C614.42,278.50 612.73,279.73 611.20,280.90 C609.67,282.07 608.35,283.25 606.30,284.30 C604.25,285.35 601.33,286.12 598.90,287.20 C596.47,288.28 593.87,289.58 591.70,290.80 C589.53,292.02 587.58,293.28 585.90,294.50 C584.22,295.72 582.87,296.90 581.60,298.10 C580.33,299.30 579.22,300.50 578.30,301.70 C577.38,302.90 576.63,304.10 576.10,305.30 C575.57,306.50 575.40,307.70 575.10,308.90 C574.80,310.10 574.55,311.30 574.30,312.50 C574.05,313.70 573.82,314.88 573.60,316.10 C573.38,317.32 573.15,318.58 573.00,319.80 C572.85,321.02 573.05,321.60 572.70,323.40 C572.35,325.20 571.32,328.20 570.90,330.60 C570.48,333.00 570.35,335.23 570.20,337.80 C570.05,340.37 570.03,344.63 570.00,346.00 L570.00,346.00 C569.97,344.63 569.95,340.37 569.80,337.80 C569.65,335.23 569.52,333.00 569.10,330.60 C568.68,328.20 567.65,325.20 567.30,323.40 C566.95,321.60 567.15,321.02 567.00,319.80 C566.85,318.58 566.62,317.32 566.40,316.10 C566.18,314.88 565.95,313.70 565.70,312.50 C565.45,311.30 565.20,310.10 564.90,308.90 C564.60,307.70 564.43,306.50 563.90,305.30 C563.37,304.10 562.62,302.90 561.70,301.70 C560.78,300.50 559.67,299.30 558.40,298.10 C557.13,296.90 555.78,295.72 554.10,294.50 C552.42,293.28 550.47,292.02 548.30,290.80 C546.13,289.58 543.53,288.28 541.10,287.20 C538.67,286.12 535.75,285.35 533.70,284.30 C531.65,283.25 530.33,282.07 528.80,280.90 C527.27,279.73 525.58,278.50 524.50,277.30 C523.42,276.10 522.55,274.90 522.30,273.70 C522.05,272.50 522.28,271.32 523.00,270.10 C523.72,268.88 525.15,267.62 526.60,266.40 C528.05,265.18 529.77,264.00 531.70,262.80 C533.63,261.60 535.92,260.40 538.20,259.20 C540.48,258.00 543.12,256.80 545.40,255.60 C547.68,254.40 550.45,253.20 551.90,252.00 C553.35,250.80 553.98,249.60 554.10,248.40 C554.22,247.20 553.45,246.02 552.60,244.80 C551.75,243.58 550.55,242.32 549.00,241.10 C547.45,239.88 544.98,238.70 543.30,237.50 C541.62,236.30 539.82,235.10 538.90,233.90 C537.98,232.70 537.80,231.50 537.80,230.30 C537.80,229.10 538.35,227.90 538.90,226.70 C539.45,225.50 540.43,224.30 541.10,223.10 C541.77,221.90 542.48,220.72 542.90,219.50 C543.32,218.28 543.42,217.02 543.60,215.80 C543.78,214.58 543.60,213.58 544.00,212.20 C544.40,210.82 545.28,208.88 546.00,207.50 C546.72,206.12 547.43,205.10 548.30,203.90 C549.17,202.70 550.23,201.50 551.20,200.30 C552.17,199.10 553.13,197.90 554.10,196.70 C555.07,195.50 556.03,194.32 557.00,193.10 C557.97,191.88 559.07,190.62 559.90,189.40 C560.73,188.18 561.33,187.00 562.00,185.80 C562.67,184.60 563.48,183.40 563.90,182.20 C564.32,181.00 564.42,179.80 564.50,178.60 C564.58,177.40 564.48,176.20 564.40,175.00 C564.32,173.80 564.03,172.60 564.00,171.40 C563.97,170.20 564.10,169.02 564.20,167.80 C564.30,166.58 564.35,165.32 564.60,164.10 C564.85,162.88 565.30,161.70 565.70,160.50 C566.10,159.30 566.50,158.70 567.00,156.90 C567.50,155.10 568.23,152.10 568.70,149.70 C569.17,147.30 569.58,145.20 569.80,142.50 C570.02,139.80 569.97,135.00 570.00,133.50 Z" fill="none" stroke="#000" stroke-width="5.9" stroke-linejoin="round" stroke-linecap="round"/>
<path d="M723.00,124.00 C723.03,125.42 722.98,129.88 723.20,132.50 C723.42,135.12 723.83,137.30 724.30,139.70 C724.77,142.10 725.50,145.10 726.00,146.90 C726.50,148.70 726.90,149.30 727.30,150.50 C727.70,151.70 728.03,152.88 728.40,154.10 C728.77,155.32 729.07,156.58 729.50,157.80 C729.93,159.02 730.40,160.20 731.00,161.40 C731.60,162.60 732.27,163.80 733.10,165.00 C733.93,166.20 734.67,167.40 736.00,168.60 C737.33,169.80 739.28,171.00 741.10,172.20 C742.92,173.40 744.85,174.60 746.90,175.80 C748.95,177.00 751.23,178.18 753.40,179.40 C755.57,180.62 757.85,181.88 759.90,183.10 C761.95,184.32 764.02,185.50 765.70,186.70 C767.38,187.90 769.28,189.17 770.00,190.30 C770.72,191.43 770.72,192.35 770.00,193.50 C769.28,194.65 767.15,195.98 765.70,197.20 C764.25,198.42 762.75,199.58 761.30,200.80 C759.85,202.02 758.02,203.28 757.00,204.50 C755.98,205.72 755.57,206.90 755.20,208.10 C754.83,209.30 755.05,210.50 754.80,211.70 C754.55,212.90 754.42,214.10 753.70,215.30 C752.98,216.50 751.63,217.70 750.50,218.90 C749.37,220.10 747.93,221.30 746.90,222.50 C745.87,223.70 744.97,224.88 744.30,226.10 C743.63,227.32 743.20,228.58 742.90,229.80 C742.60,231.02 742.57,232.20 742.50,233.40 C742.43,234.60 742.43,235.80 742.50,237.00 C742.57,238.20 742.72,239.40 742.90,240.60 C743.08,241.80 743.37,243.00 743.60,244.20 C743.83,245.40 744.07,246.60 744.30,247.80 C744.53,249.00 744.82,250.18 745.00,251.40 C745.18,252.62 745.40,253.88 745.40,255.10 C745.40,256.32 745.30,257.50 745.00,258.70 C744.70,259.90 744.13,261.10 743.60,262.30 C743.07,263.50 742.82,264.48 741.80,265.90 C740.78,267.32 738.70,269.37 737.50,270.80 C736.30,272.23 735.45,273.28 734.60,274.50 C733.75,275.72 732.95,276.90 732.40,278.10 C731.85,279.30 731.53,280.50 731.30,281.70 C731.07,282.90 731.12,284.10 731.00,285.30 C730.88,286.50 730.92,287.70 730.60,288.90 C730.28,290.10 729.65,291.30 729.10,292.50 C728.55,293.70 727.90,294.88 727.30,296.10 C726.70,297.32 725.95,298.58 725.50,299.80 C725.05,301.02 724.98,301.60 724.60,303.40 C724.22,305.20 723.47,307.83 723.20,310.60 C722.93,313.37 723.03,318.43 723.00,320.00 L723.00,320.00 C722.97,318.43 723.07,313.37 722.80,310.60 C722.53,307.83 721.78,305.20 721.40,303.40 C721.02,301.60 720.95,301.02 720.50,299.80 C720.05,298.58 719.30,297.32 718.70,296.10 C718.10,294.88 717.45,293.70 716.90,292.50 C716.35,291.30 715.72,290.10 715.40,288.90 C715.08,287.70 715.12,286.50 715.00,285.30 C714.88,284.10 714.93,282.90 714.70,281.70 C714.47,280.50 714.15,279.30 713.60,278.10 C713.05,276.90 712.25,275.72 711.40,274.50 C710.55,273.28 709.70,272.23 708.50,270.80 C707.30,269.37 705.22,267.32 704.20,265.90 C703.18,264.48 702.93,263.50 702.40,262.30 C701.87,261.10 701.30,259.90 701.00,258.70 C700.70,257.50 700.60,256.32 700.60,255.10 C700.60,253.88 700.82,252.62 701.00,251.40 C701.18,250.18 701.47,249.00 701.70,247.80 C701.93,246.60 702.17,245.40 702.40,244.20 C702.63,243.00 702.92,241.80 703.10,240.60 C703.28,239.40 703.43,238.20 703.50,237.00 C703.57,235.80 703.57,234.60 703.50,233.40 C703.43,232.20 703.40,231.02 703.10,229.80 C702.80,228.58 702.37,227.32 701.70,226.10 C701.03,224.88 700.13,223.70 699.10,222.50 C698.07,221.30 696.63,220.10 695.50,218.90 C694.37,217.70 693.02,216.50 692.30,215.30 C691.58,214.10 691.45,212.90 691.20,211.70 C690.95,210.50 691.17,209.30 690.80,208.10 C690.43,206.90 690.02,205.72 689.00,204.50 C687.98,203.28 686.15,202.02 684.70,200.80 C683.25,199.58 681.75,198.42 680.30,197.20 C678.85,195.98 676.72,194.65 676.00,193.50 C675.28,192.35 675.28,191.43 676.00,190.30 C676.72,189.17 678.62,187.90 680.30,186.70 C681.98,185.50 684.05,184.32 686.10,183.10 C688.15,181.88 690.43,180.62 692.60,179.40 C694.77,178.18 697.05,177.00 699.10,175.80 C701.15,174.60 703.08,173.40 704.90,172.20 C706.72,171.00 708.67,169.80 710.00,168.60 C711.33,167.40 712.07,166.20 712.90,165.00 C713.73,163.80 714.40,162.60 715.00,161.40 C715.60,160.20 716.07,159.02 716.50,157.80 C716.93,156.58 717.23,155.32 717.60,154.10 C717.97,152.88 718.30,151.70 718.70,150.50 C719.10,149.30 719.50,148.70 720.00,146.90 C720.50,145.10 721.23,142.10 721.70,139.70 C722.17,137.30 722.58,135.12 722.80,132.50 C723.02,129.88 722.97,125.42 723.00,124.00 Z" fill="#fb3a40" stroke="none"/>
<line x1="683.93" y1="191" x2="762.07" y2="191" stroke="#000" stroke-width="1.8" stroke-dasharray="1.7 3.76"/>
<line x1="691.60" y1="213" x2="754.40" y2="213" stroke="#000" stroke-width="2.3" stroke-dasharray="5.5 3.56"/>
<line x1="708.50" y1="246.7" x2="737.50" y2="246.7" stroke="#000" stroke-width="1.8" stroke-dasharray="1.7 3.76"/>
<path d="M723.00,124.00 C723.03,125.42 722.98,129.88 723.20,132.50 C723.42,135.12 723.83,137.30 724.30,139.70 C724.77,142.10 725.50,145.10 726.00,146.90 C726.50,148.70 726.90,149.30 727.30,150.50 C727.70,151.70 728.03,152.88 728.40,154.10 C728.77,155.32 729.07,156.58 729.50,157.80 C729.93,159.02 730.40,160.20 731.00,161.40 C731.60,162.60 732.27,163.80 733.10,165.00 C733.93,166.20 734.67,167.40 736.00,168.60 C737.33,169.80 739.28,171.00 741.10,172.20 C742.92,173.40 744.85,174.60 746.90,175.80 C748.95,177.00 751.23,178.18 753.40,179.40 C755.57,180.62 757.85,181.88 759.90,183.10 C761.95,184.32 764.02,185.50 765.70,186.70 C767.38,187.90 769.28,189.17 770.00,190.30 C770.72,191.43 770.72,192.35 770.00,193.50 C769.28,194.65 767.15,195.98 765.70,197.20 C764.25,198.42 762.75,199.58 761.30,200.80 C759.85,202.02 758.02,203.28 757.00,204.50 C755.98,205.72 755.57,206.90 755.20,208.10 C754.83,209.30 755.05,210.50 754.80,211.70 C754.55,212.90 754.42,214.10 753.70,215.30 C752.98,216.50 751.63,217.70 750.50,218.90 C749.37,220.10 747.93,221.30 746.90,222.50 C745.87,223.70 744.97,224.88 744.30,226.10 C743.63,227.32 743.20,228.58 742.90,229.80 C742.60,231.02 742.57,232.20 742.50,233.40 C742.43,234.60 742.43,235.80 742.50,237.00 C742.57,238.20 742.72,239.40 742.90,240.60 C743.08,241.80 743.37,243.00 743.60,244.20 C743.83,245.40 744.07,246.60 744.30,247.80 C744.53,249.00 744.82,250.18 745.00,251.40 C745.18,252.62 745.40,253.88 745.40,255.10 C745.40,256.32 745.30,257.50 745.00,258.70 C744.70,259.90 744.13,261.10 743.60,262.30 C743.07,263.50 742.82,264.48 741.80,265.90 C740.78,267.32 738.70,269.37 737.50,270.80 C736.30,272.23 735.45,273.28 734.60,274.50 C733.75,275.72 732.95,276.90 732.40,278.10 C731.85,279.30 731.53,280.50 731.30,281.70 C731.07,282.90 731.12,284.10 731.00,285.30 C730.88,286.50 730.92,287.70 730.60,288.90 C730.28,290.10 729.65,291.30 729.10,292.50 C728.55,293.70 727.90,294.88 727.30,296.10 C726.70,297.32 725.95,298.58 725.50,299.80 C725.05,301.02 724.98,301.60 724.60,303.40 C724.22,305.20 723.47,307.83 723.20,310.60 C722.93,313.37 723.03,318.43 723.00,320.00 L723.00,320.00 C722.97,318.43 723.07,313.37 722.80,310.60 C722.53,307.83 721.78,305.20 721.40,303.40 C721.02,301.60 720.95,301.02 720.50,299.80 C720.05,298.58 719.30,297.32 718.70,296.10 C718.10,294.88 717.45,293.70 716.90,292.50 C716.35,291.30 715.72,290.10 715.40,288.90 C715.08,287.70 715.12,286.50 715.00,285.30 C714.88,284.10 714.93,282.90 714.70,281.70 C714.47,280.50 714.15,279.30 713.60,278.10 C713.05,276.90 712.25,275.72 711.40,274.50 C710.55,273.28 709.70,272.23 708.50,270.80 C707.30,269.37 705.22,267.32 704.20,265.90 C703.18,264.48 702.93,263.50 702.40,262.30 C701.87,261.10 701.30,259.90 701.00,258.70 C700.70,257.50 700.60,256.32 700.60,255.10 C700.60,253.88 700.82,252.62 701.00,251.40 C701.18,250.18 701.47,249.00 701.70,247.80 C701.93,246.60 702.17,245.40 702.40,244.20 C702.63,243.00 702.92,241.80 703.10,240.60 C703.28,239.40 703.43,238.20 703.50,237.00 C703.57,235.80 703.57,234.60 703.50,233.40 C703.43,232.20 703.40,231.02 703.10,229.80 C702.80,228.58 702.37,227.32 701.70,226.10 C701.03,224.88 700.13,223.70 699.10,222.50 C698.07,221.30 696.63,220.10 695.50,218.90 C694.37,217.70 693.02,216.50 692.30,215.30 C691.58,214.10 691.45,212.90 691.20,211.70 C690.95,210.50 691.17,209.30 690.80,208.10 C690.43,206.90 690.02,205.72 689.00,204.50 C687.98,203.28 686.15,202.02 684.70,200.80 C683.25,199.58 681.75,198.42 680.30,197.20 C678.85,195.98 676.72,194.65 676.00,193.50 C675.28,192.35 675.28,191.43 676.00,190.30 C676.72,189.17 678.62,187.90 680.30,186.70 C681.98,185.50 684.05,184.32 686.10,183.10 C688.15,181.88 690.43,180.62 692.60,179.40 C694.77,178.18 697.05,177.00 699.10,175.80 C701.15,174.60 703.08,173.40 704.90,172.20 C706.72,171.00 708.67,169.80 710.00,168.60 C711.33,167.40 712.07,166.20 712.90,165.00 C713.73,163.80 714.40,162.60 715.00,161.40 C715.60,160.20 716.07,159.02 716.50,157.80 C716.93,156.58 717.23,155.32 717.60,154.10 C717.97,152.88 718.30,151.70 718.70,150.50 C719.10,149.30 719.50,148.70 720.00,146.90 C720.50,145.10 721.23,142.10 721.70,139.70 C722.17,137.30 722.58,135.12 722.80,132.50 C723.02,129.88 722.97,125.42 723.00,124.00 Z" fill="none" stroke="#000" stroke-width="5.9" stroke-linejoin="round" stroke-linecap="round"/>
<path d="M1166.40,261.00 C1166.43,261.58 1166.45,262.97 1166.60,264.50 C1166.75,266.03 1166.78,268.63 1167.30,270.20 C1167.82,271.77 1168.35,272.45 1169.70,273.90 C1171.05,275.35 1173.48,277.47 1175.40,278.90 C1177.32,280.33 1179.27,281.30 1181.20,282.50 C1183.13,283.70 1185.32,284.88 1187.00,286.10 C1188.68,287.32 1190.70,288.58 1191.30,289.80 C1191.90,291.02 1191.43,292.20 1190.60,293.40 C1189.77,294.60 1187.17,295.80 1186.30,297.00 C1185.43,298.20 1184.32,299.40 1185.40,300.60 C1186.48,301.80 1190.00,303.00 1192.80,304.20 C1195.60,305.40 1199.43,306.60 1202.20,307.80 C1204.97,309.00 1207.47,310.18 1209.40,311.40 C1211.33,312.62 1213.07,313.88 1213.80,315.10 C1214.53,316.32 1214.53,317.50 1213.80,318.70 C1213.07,319.90 1211.35,321.17 1209.40,322.30 C1207.45,323.43 1204.35,324.42 1202.10,325.50 C1199.85,326.58 1197.33,327.60 1195.90,328.80 C1194.47,330.00 1194.02,331.42 1193.50,332.70 C1192.98,333.98 1193.57,335.22 1192.80,336.50 C1192.03,337.78 1190.57,339.12 1188.90,340.40 C1187.23,341.68 1184.72,342.93 1182.80,344.20 C1180.88,345.47 1178.62,346.72 1177.40,348.00 C1176.18,349.28 1175.68,350.62 1175.50,351.90 C1175.32,353.18 1175.98,354.43 1176.30,355.70 C1176.62,356.97 1177.40,358.22 1177.40,359.50 C1177.40,360.78 1176.82,362.12 1176.30,363.40 C1175.78,364.68 1174.88,365.92 1174.30,367.20 C1173.72,368.48 1173.18,369.82 1172.80,371.10 C1172.42,372.38 1172.20,373.63 1172.00,374.90 C1171.80,376.17 1171.78,377.42 1171.60,378.70 C1171.42,379.98 1171.28,381.32 1170.90,382.60 C1170.52,383.88 1169.68,385.12 1169.30,386.40 C1168.92,387.68 1168.98,389.02 1168.60,390.30 C1168.22,391.58 1167.37,392.03 1167.00,394.10 C1166.63,396.17 1166.50,401.27 1166.40,402.70 L1166.40,402.70 C1166.30,401.27 1166.17,396.17 1165.80,394.10 C1165.43,392.03 1164.58,391.58 1164.20,390.30 C1163.82,389.02 1163.88,387.68 1163.50,386.40 C1163.12,385.12 1162.28,383.88 1161.90,382.60 C1161.52,381.32 1161.38,379.98 1161.20,378.70 C1161.02,377.42 1161.00,376.17 1160.80,374.90 C1160.60,373.63 1160.38,372.38 1160.00,371.10 C1159.62,369.82 1159.08,368.48 1158.50,367.20 C1157.92,365.92 1157.02,364.68 1156.50,363.40 C1155.98,362.12 1155.40,360.78 1155.40,359.50 C1155.40,358.22 1156.18,356.97 1156.50,355.70 C1156.82,354.43 1157.48,353.18 1157.30,351.90 C1157.12,350.62 1156.62,349.28 1155.40,348.00 C1154.18,346.72 1151.92,345.47 1150.00,344.20 C1148.08,342.93 1145.57,341.68 1143.90,340.40 C1142.23,339.12 1140.77,337.78 1140.00,336.50 C1139.23,335.22 1139.82,333.98 1139.30,332.70 C1138.78,331.42 1138.33,330.00 1136.90,328.80 C1135.47,327.60 1132.95,326.58 1130.70,325.50 C1128.45,324.42 1125.35,323.43 1123.40,322.30 C1121.45,321.17 1119.73,319.90 1119.00,318.70 C1118.27,317.50 1118.27,316.32 1119.00,315.10 C1119.73,313.88 1121.47,312.62 1123.40,311.40 C1125.33,310.18 1127.83,309.00 1130.60,307.80 C1133.37,306.60 1137.20,305.40 1140.00,304.20 C1142.80,303.00 1146.32,301.80 1147.40,300.60 C1148.48,299.40 1147.37,298.20 1146.50,297.00 C1145.63,295.80 1143.03,294.60 1142.20,293.40 C1141.37,292.20 1140.90,291.02 1141.50,289.80 C1142.10,288.58 1144.12,287.32 1145.80,286.10 C1147.48,284.88 1149.67,283.70 1151.60,282.50 C1153.53,281.30 1155.48,280.33 1157.40,278.90 C1159.32,277.47 1161.75,275.35 1163.10,273.90 C1164.45,272.45 1164.98,271.77 1165.50,270.20 C1166.02,268.63 1166.05,266.03 1166.20,264.50 C1166.35,262.97 1166.37,261.58 1166.40,261.00 Z" fill="#828282" stroke="none"/>
<line x1="1149.17" y1="306.7" x2="1183.63" y2="306.7" stroke="#000" stroke-width="1.8" stroke-dasharray="1.7 3.76"/>
<line x1="1119.00" y1="318" x2="1213.80" y2="318" stroke="#000" stroke-width="2.3" stroke-dasharray="5.5 3.56"/>
<line x1="1146.44" y1="337.3" x2="1186.36" y2="337.3" stroke="#000" stroke-width="1.8" stroke-dasharray="1.7 3.76"/>
<path d="M1166.40,261.00 C1166.43,261.58 1166.45,262.97 1166.60,264.50 C1166.75,266.03 1166.78,268.63 1167.30,270.20 C1167.82,271.77 1168.35,272.45 1169.70,273.90 C1171.05,275.35 1173.48,277.47 1175.40,278.90 C1177.32,280.33 1179.27,281.30 1181.20,282.50 C1183.13,283.70 1185.32,284.88 1187.00,286.10 C1188.68,287.32 1190.70,288.58 1191.30,289.80 C1191.90,291.02 1191.43,292.20 1190.60,293.40 C1189.77,294.60 1187.17,295.80 1186.30,297.00 C1185.43,298.20 1184.32,299.40 1185.40,300.60 C1186.48,301.80 1190.00,303.00 1192.80,304.20 C1195.60,305.40 1199.43,306.60 1202.20,307.80 C1204.97,309.00 1207.47,310.18 1209.40,311.40 C1211.33,312.62 1213.07,313.88 1213.80,315.10 C1214.53,316.32 1214.53,317.50 1213.80,318.70 C1213.07,319.90 1211.35,321.17 1209.40,322.30 C1207.45,323.43 1204.35,324.42 1202.10,325.50 C1199.85,326.58 1197.33,327.60 1195.90,328.80 C1194.47,330.00 1194.02,331.42 1193.50,332.70 C1192.98,333.98 1193.57,335.22 1192.80,336.50 C1192.03,337.78 1190.57,339.12 1188.90,340.40 C1187.23,341.68 1184.72,342.93 1182.80,344.20 C1180.88,345.47 1178.62,346.72 1177.40,348.00 C1176.18,349.28 1175.68,350.62 1175.50,351.90 C1175.32,353.18 1175.98,354.43 1176.30,355.70 C1176.62,356.97 1177.40,358.22 1177.40,359.50 C1177.40,360.78 1176.82,362.12 1176.30,363.40 C1175.78,364.68 1174.88,365.92 1174.30,367.20 C1173.72,368.48 1173.18,369.82 1172.80,371.10 C1172.42,372.38 1172.20,373.63 1172.00,374.90 C1171.80,376.17 1171.78,377.42 1171.60,378.70 C1171.42,379.98 1171.28,381.32 1170.90,382.60 C1170.52,383.88 1169.68,385.12 1169.30,386.40 C1168.92,387.68 1168.98,389.02 1168.60,390.30 C1168.22,391.58 1167.37,392.03 1167.00,394.10 C1166.63,396.17 1166.50,401.27 1166.40,402.70 L1166.40,402.70 C1166.30,401.27 1166.17,396.17 1165.80,394.10 C1165.43,392.03 1164.58,391.58 1164.20,390.30 C1163.82,389.02 1163.88,387.68 1163.50,386.40 C1163.12,385.12 1162.28,383.88 1161.90,382.60 C1161.52,381.32 1161.38,379.98 1161.20,378.70 C1161.02,377.42 1161.00,376.17 1160.80,374.90 C1160.60,373.63 1160.38,372.38 1160.00,371.10 C1159.62,369.82 1159.08,368.48 1158.50,367.20 C1157.92,365.92 1157.02,364.68 1156.50,363.40 C1155.98,362.12 1155.40,360.78 1155.40,359.50 C1155.40,358.22 1156.18,356.97 1156.50,355.70 C1156.82,354.43 1157.48,353.18 1157.30,351.90 C1157.12,350.62 1156.62,349.28 1155.40,348.00 C1154.18,346.72 1151.92,345.47 1150.00,344.20 C1148.08,342.93 1145.57,341.68 1143.90,340.40 C1142.23,339.12 1140.77,337.78 1140.00,336.50 C1139.23,335.22 1139.82,333.98 1139.30,332.70 C1138.78,331.42 1138.33,330.00 1136.90,328.80 C1135.47,327.60 1132.95,326.58 1130.70,325.50 C1128.45,324.42 1125.35,323.43 1123.40,322.30 C1121.45,321.17 1119.73,319.90 1119.00,318.70 C1118.27,317.50 1118.27,316.32 1119.00,315.10 C1119.73,313.88 1121.47,312.62 1123.40,311.40 C1125.33,310.18 1127.83,309.00 1130.60,307.80 C1133.37,306.60 1137.20,305.40 1140.00,304.20 C1142.80,303.00 1146.32,301.80 1147.40,300.60 C1148.48,299.40 1147.37,298.20 1146.50,297.00 C1145.63,295.80 1143.03,294.60 1142.20,293.40 C1141.37,292.20 1140.90,291.02 1141.50,289.80 C1142.10,288.58 1144.12,287.32 1145.80,286.10 C1147.48,284.88 1149.67,283.70 1151.60,282.50 C1153.53,281.30 1155.48,280.33 1157.40,278.90 C1159.32,277.47 1161.75,275.35 1163.10,273.90 C1164.45,272.45 1164.98,271.77 1165.50,270.20 C1166.02,268.63 1166.05,266.03 1166.20,264.50 C1166.35,262.97 1166.37,261.58 1166.40,261.00 Z" fill="none" stroke="#000" stroke-width="5.9" stroke-linejoin="round" stroke-linecap="round"/>
<path d="M1319.40,238.40 C1319.40,238.80 1319.30,239.18 1319.40,240.80 C1319.50,242.42 1319.60,245.68 1320.00,248.10 C1320.40,250.52 1321.38,253.50 1321.80,255.30 C1322.22,257.10 1322.50,257.70 1322.50,258.90 C1322.50,260.10 1322.05,261.30 1321.80,262.50 C1321.55,263.70 1321.03,264.88 1321.00,266.10 C1320.97,267.32 1320.48,268.58 1321.60,269.80 C1322.72,271.02 1325.60,272.20 1327.70,273.40 C1329.80,274.60 1331.78,275.80 1334.20,277.00 C1336.62,278.20 1339.67,279.40 1342.20,280.60 C1344.73,281.80 1347.35,283.00 1349.40,284.20 C1351.45,285.40 1352.82,286.60 1354.50,287.80 C1356.18,289.00 1357.82,290.18 1359.50,291.40 C1361.18,292.62 1363.28,293.88 1364.60,295.10 C1365.92,296.32 1367.35,297.50 1367.40,298.70 C1367.45,299.90 1366.10,301.22 1364.90,302.30 C1363.70,303.38 1362.33,304.08 1360.20,305.20 C1358.07,306.32 1354.50,307.60 1352.10,309.00 C1349.70,310.40 1346.72,312.08 1345.80,313.60 C1344.88,315.12 1345.10,316.60 1346.60,318.10 C1348.10,319.60 1351.93,321.10 1354.80,322.60 C1357.67,324.10 1362.00,325.60 1363.80,327.10 C1365.60,328.60 1366.35,330.10 1365.60,331.60 C1364.85,333.10 1362.15,334.58 1359.30,336.10 C1356.45,337.62 1350.90,339.18 1348.50,340.70 C1346.10,342.22 1345.65,343.70 1344.90,345.20 C1344.15,346.70 1344.47,348.20 1344.00,349.70 C1343.53,351.20 1342.87,352.70 1342.10,354.20 C1341.33,355.70 1340.07,357.18 1339.40,358.70 C1338.73,360.22 1338.70,361.78 1338.10,363.30 C1337.50,364.82 1337.08,366.30 1335.80,367.80 C1334.52,369.30 1332.20,370.80 1330.40,372.30 C1328.60,373.80 1326.52,375.30 1325.00,376.80 C1323.48,378.30 1322.20,379.80 1321.30,381.30 C1320.40,382.80 1319.92,383.88 1319.60,385.80 C1319.28,387.72 1319.43,391.63 1319.40,392.80 L1319.40,392.80 C1319.37,391.63 1319.52,387.72 1319.20,385.80 C1318.88,383.88 1318.40,382.80 1317.50,381.30 C1316.60,379.80 1315.32,378.30 1313.80,376.80 C1312.28,375.30 1310.20,373.80 1308.40,372.30 C1306.60,370.80 1304.28,369.30 1303.00,367.80 C1301.72,366.30 1301.30,364.82 1300.70,363.30 C1300.10,361.78 1300.07,360.22 1299.40,358.70 C1298.73,357.18 1297.47,355.70 1296.70,354.20 C1295.93,352.70 1295.27,351.20 1294.80,349.70 C1294.33,348.20 1294.65,346.70 1293.90,345.20 C1293.15,343.70 1292.70,342.22 1290.30,340.70 C1287.90,339.18 1282.35,337.62 1279.50,336.10 C1276.65,334.58 1273.95,333.10 1273.20,331.60 C1272.45,330.10 1273.20,328.60 1275.00,327.10 C1276.80,325.60 1281.13,324.10 1284.00,322.60 C1286.87,321.10 1290.70,319.60 1292.20,318.10 C1293.70,316.60 1293.92,315.12 1293.00,313.60 C1292.08,312.08 1289.10,310.40 1286.70,309.00 C1284.30,307.60 1280.73,306.32 1278.60,305.20 C1276.47,304.08 1275.10,303.38 1273.90,302.30 C1272.70,301.22 1271.35,299.90 1271.40,298.70 C1271.45,297.50 1272.88,296.32 1274.20,295.10 C1275.52,293.88 1277.62,292.62 1279.30,291.40 C1280.98,290.18 1282.62,289.00 1284.30,287.80 C1285.98,286.60 1287.35,285.40 1289.40,284.20 C1291.45,283.00 1294.07,281.80 1296.60,280.60 C1299.13,279.40 1302.18,278.20 1304.60,277.00 C1307.02,275.80 1309.00,274.60 1311.10,273.40 C1313.20,272.20 1316.08,271.02 1317.20,269.80 C1318.32,268.58 1317.83,267.32 1317.80,266.10 C1317.77,264.88 1317.25,263.70 1317.00,262.50 C1316.75,261.30 1316.30,260.10 1316.30,258.90 C1316.30,257.70 1316.58,257.10 1317.00,255.30 C1317.42,253.50 1318.40,250.52 1318.80,248.10 C1319.20,245.68 1319.30,242.42 1319.40,240.80 C1319.50,239.18 1319.40,238.80 1319.40,238.40 Z" fill="#828282" stroke="none"/>
<line x1="1280.33" y1="297.2" x2="1358.47" y2="297.2" stroke="#000" stroke-width="1.8" stroke-dasharray="1.7 3.76"/>
<line x1="1284.00" y1="322.6" x2="1354.80" y2="322.6" stroke="#000" stroke-width="2.3" stroke-dasharray="5.5 3.56"/>
<line x1="1291.25" y1="338.4" x2="1347.55" y2="338.4" stroke="#000" stroke-width="1.8" stroke-dasharray="1.7 3.76"/>
<path d="M1319.40,238.40 C1319.40,238.80 1319.30,239.18 1319.40,240.80 C1319.50,242.42 1319.60,245.68 1320.00,248.10 C1320.40,250.52 1321.38,253.50 1321.80,255.30 C1322.22,257.10 1322.50,257.70 1322.50,258.90 C1322.50,260.10 1322.05,261.30 1321.80,262.50 C1321.55,263.70 1321.03,264.88 1321.00,266.10 C1320.97,267.32 1320.48,268.58 1321.60,269.80 C1322.72,271.02 1325.60,272.20 1327.70,273.40 C1329.80,274.60 1331.78,275.80 1334.20,277.00 C1336.62,278.20 1339.67,279.40 1342.20,280.60 C1344.73,281.80 1347.35,283.00 1349.40,284.20 C1351.45,285.40 1352.82,286.60 1354.50,287.80 C1356.18,289.00 1357.82,290.18 1359.50,291.40 C1361.18,292.62 1363.28,293.88 1364.60,295.10 C1365.92,296.32 1367.35,297.50 1367.40,298.70 C1367.45,299.90 1366.10,301.22 1364.90,302.30 C1363.70,303.38 1362.33,304.08 1360.20,305.20 C1358.07,306.32 1354.50,307.60 1352.10,309.00 C1349.70,310.40 1346.72,312.08 1345.80,313.60 C1344.88,315.12 1345.10,316.60 1346.60,318.10 C1348.10,319.60 1351.93,321.10 1354.80,322.60 C1357.67,324.10 1362.00,325.60 1363.80,327.10 C1365.60,328.60 1366.35,330.10 1365.60,331.60 C1364.85,333.10 1362.15,334.58 1359.30,336.10 C1356.45,337.62 1350.90,339.18 1348.50,340.70 C1346.10,342.22 1345.65,343.70 1344.90,345.20 C1344.15,346.70 1344.47,348.20 1344.00,349.70 C1343.53,351.20 1342.87,352.70 1342.10,354.20 C1341.33,355.70 1340.07,357.18 1339.40,358.70 C1338.73,360.22 1338.70,361.78 1338.10,363.30 C1337.50,364.82 1337.08,366.30 1335.80,367.80 C1334.52,369.30 1332.20,370.80 1330.40,372.30 C1328.60,373.80 1326.52,375.30 1325.00,376.80 C1323.48,378.30 1322.20,379.80 1321.30,381.30 C1320.40,382.80 1319.92,383.88 1319.60,385.80 C1319.28,387.72 1319.43,391.63 1319.40,392.80 L1319.40,392.80 C1319.37,391.63 1319.52,387.72 1319.20,385.80 C1318.88,383.88 1318.40,382.80 1317.50,381.30 C1316.60,379.80 1315.32,378.30 1313.80,376.80 C1312.28,375.30 1310.20,373.80 1308.40,372.30 C1306.60,370.80 1304.28,369.30 1303.00,367.80 C1301.72,366.30 1301.30,364.82 1300.70,363.30 C1300.10,361.78 1300.07,360.22 1299.40,358.70 C1298.73,357.18 1297.47,355.70 1296.70,354.20 C1295.93,352.70 1295.27,351.20 1294.80,349.70 C1294.33,348.20 1294.65,346.70 1293.90,345.20 C1293.15,343.70 1292.70,342.22 1290.30,340.70 C1287.90,339.18 1282.35,337.62 1279.50,336.10 C1276.65,334.58 1273.95,333.10 1273.20,331.60 C1272.45,330.10 1273.20,328.60 1275.00,327.10 C1276.80,325.60 1281.13,324.10 1284.00,322.60 C1286.87,321.10 1290.70,319.60 1292.20,318.10 C1293.70,316.60 1293.92,315.12 1293.00,313.60 C1292.08,312.08 1289.10,310.40 1286.70,309.00 C1284.30,307.60 1280.73,306.32 1278.60,305.20 C1276.47,304.08 1275.10,303.38 1273.90,302.30 C1272.70,301.22 1271.35,299.90 1271.40,298.70 C1271.45,297.50 1272.88,296.32 1274.20,295.10 C1275.52,293.88 1277.62,292.62 1279.30,291.40 C1280.98,290.18 1282.62,289.00 1284.30,287.80 C1285.98,286.60 1287.35,285.40 1289.40,284.20 C1291.45,283.00 1294.07,281.80 1296.60,280.60 C1299.13,279.40 1302.18,278.20 1304.60,277.00 C1307.02,275.80 1309.00,274.60 1311.10,273.40 C1313.20,272.20 1316.08,271.02 1317.20,269.80 C1318.32,268.58 1317.83,267.32 1317.80,266.10 C1317.77,264.88 1317.25,263.70 1317.00,262.50 C1316.75,261.30 1316.30,260.10 1316.30,258.90 C1316.30,257.70 1316.58,257.10 1317.00,255.30 C1317.42,253.50 1318.40,250.52 1318.80,248.10 C1319.20,245.68 1319.30,242.42 1319.40,240.80 C1319.50,239.18 1319.40,238.80 1319.40,238.40 Z" fill="none" stroke="#000" stroke-width="5.9" stroke-linejoin="round" stroke-linecap="round"/>
<path d="M1472.20,183.30 C1472.20,183.72 1472.15,184.17 1472.20,185.80 C1472.25,187.43 1472.15,190.68 1472.50,193.10 C1472.85,195.52 1473.85,198.50 1474.30,200.30 C1474.75,202.10 1474.62,202.70 1475.20,203.90 C1475.78,205.10 1476.88,206.30 1477.80,207.50 C1478.72,208.70 1479.75,209.88 1480.70,211.10 C1481.65,212.32 1482.55,213.58 1483.50,214.80 C1484.45,216.02 1485.62,217.20 1486.40,218.40 C1487.18,219.60 1487.58,220.80 1488.20,222.00 C1488.82,223.20 1489.55,224.40 1490.10,225.60 C1490.65,226.80 1491.08,228.00 1491.50,229.20 C1491.92,230.40 1492.30,231.60 1492.60,232.80 C1492.90,234.00 1493.07,235.18 1493.30,236.40 C1493.53,237.62 1493.82,238.88 1494.00,240.10 C1494.18,241.32 1494.27,242.50 1494.40,243.70 C1494.53,244.90 1494.68,246.10 1494.80,247.30 C1494.92,248.50 1494.97,249.70 1495.10,250.90 C1495.23,252.10 1495.23,253.45 1495.60,254.50 C1495.97,255.55 1496.30,256.15 1497.30,257.20 C1498.30,258.25 1499.92,259.58 1501.60,260.80 C1503.28,262.02 1505.58,263.28 1507.40,264.50 C1509.22,265.72 1511.17,266.90 1512.50,268.10 C1513.83,269.30 1514.68,270.50 1515.40,271.70 C1516.12,272.90 1516.53,274.10 1516.80,275.30 C1517.07,276.50 1517.23,277.70 1517.00,278.90 C1516.77,280.10 1516.03,281.30 1515.40,282.50 C1514.77,283.70 1513.93,284.88 1513.20,286.10 C1512.47,287.32 1511.67,288.58 1511.00,289.80 C1510.33,291.02 1509.50,292.20 1509.20,293.40 C1508.90,294.60 1508.90,295.80 1509.20,297.00 C1509.50,298.20 1510.10,299.40 1511.00,300.60 C1511.90,301.80 1513.40,303.00 1514.60,304.20 C1515.80,305.40 1517.28,306.60 1518.20,307.80 C1519.12,309.00 1519.73,310.18 1520.10,311.40 C1520.47,312.62 1520.58,313.88 1520.40,315.10 C1520.22,316.32 1519.72,317.50 1519.00,318.70 C1518.28,319.90 1517.38,321.18 1516.10,322.30 C1514.82,323.42 1513.28,324.28 1511.30,325.40 C1509.32,326.52 1506.78,327.87 1504.20,329.00 C1501.62,330.13 1497.68,331.07 1495.80,332.20 C1493.92,333.33 1493.55,334.58 1492.90,335.80 C1492.25,337.02 1492.37,338.28 1491.90,339.50 C1491.43,340.72 1490.88,341.90 1490.10,343.10 C1489.32,344.30 1488.30,345.50 1487.20,346.70 C1486.10,347.90 1484.58,349.10 1483.50,350.30 C1482.42,351.50 1481.53,352.70 1480.70,353.90 C1479.87,355.10 1479.05,356.30 1478.50,357.50 C1477.95,358.70 1477.65,359.28 1477.40,361.10 C1477.15,362.92 1477.00,365.98 1477.00,368.40 C1477.00,370.82 1477.33,373.20 1477.40,375.60 C1477.47,378.00 1477.40,380.38 1477.40,382.80 C1477.40,385.22 1477.50,387.68 1477.40,390.10 C1477.30,392.52 1477.03,395.35 1476.80,397.30 C1476.57,399.25 1476.32,400.27 1476.00,401.80 C1475.68,403.33 1475.18,405.38 1474.90,406.50 C1474.62,407.62 1474.62,407.03 1474.30,408.50 C1473.98,409.97 1473.35,413.03 1473.00,415.30 C1472.65,417.57 1472.33,419.35 1472.20,422.10 C1472.07,424.85 1472.20,430.18 1472.20,431.80 L1472.20,431.80 C1472.20,430.18 1472.33,424.85 1472.20,422.10 C1472.07,419.35 1471.75,417.57 1471.40,415.30 C1471.05,413.03 1470.42,409.97 1470.10,408.50 C1469.78,407.03 1469.78,407.62 1469.50,406.50 C1469.22,405.38 1468.72,403.33 1468.40,401.80 C1468.08,400.27 1467.83,399.25 1467.60,397.30 C1467.37,395.35 1467.10,392.52 1467.00,390.10 C1466.90,387.68 1467.00,385.22 1467.00,382.80 C1467.00,380.38 1466.93,378.00 1467.00,375.60 C1467.07,373.20 1467.40,370.82 1467.40,368.40 C1467.40,365.98 1467.25,362.92 1467.00,361.10 C1466.75,359.28 1466.45,358.70 1465.90,357.50 C1465.35,356.30 1464.53,355.10 1463.70,353.90 C1462.87,352.70 1461.98,351.50 1460.90,350.30 C1459.82,349.10 1458.30,347.90 1457.20,346.70 C1456.10,345.50 1455.08,344.30 1454.30,343.10 C1453.52,341.90 1452.97,340.72 1452.50,339.50 C1452.03,338.28 1452.15,337.02 1451.50,335.80 C1450.85,334.58 1450.48,333.33 1448.60,332.20 C1446.72,331.07 1442.78,330.13 1440.20,329.00 C1437.62,327.87 1435.08,326.52 1433.10,325.40 C1431.12,324.28 1429.58,323.42 1428.30,322.30 C1427.02,321.18 1426.12,319.90 1425.40,318.70 C1424.68,317.50 1424.18,316.32 1424.00,315.10 C1423.82,313.88 1423.93,312.62 1424.30,311.40 C1424.67,310.18 1425.28,309.00 1426.20,307.80 C1427.12,306.60 1428.60,305.40 1429.80,304.20 C1431.00,303.00 1432.50,301.80 1433.40,300.60 C1434.30,299.40 1434.90,298.20 1435.20,297.00 C1435.50,295.80 1435.50,294.60 1435.20,293.40 C1434.90,292.20 1434.07,291.02 1433.40,289.80 C1432.73,288.58 1431.93,287.32 1431.20,286.10 C1430.47,284.88 1429.63,283.70 1429.00,282.50 C1428.37,281.30 1427.63,280.10 1427.40,278.90 C1427.17,277.70 1427.33,276.50 1427.60,275.30 C1427.87,274.10 1428.28,272.90 1429.00,271.70 C1429.72,270.50 1430.57,269.30 1431.90,268.10 C1433.23,266.90 1435.18,265.72 1437.00,264.50 C1438.82,263.28 1441.12,262.02 1442.80,260.80 C1444.48,259.58 1446.10,258.25 1447.10,257.20 C1448.10,256.15 1448.43,255.55 1448.80,254.50 C1449.17,253.45 1449.17,252.10 1449.30,250.90 C1449.43,249.70 1449.48,248.50 1449.60,247.30 C1449.72,246.10 1449.87,244.90 1450.00,243.70 C1450.13,242.50 1450.22,241.32 1450.40,240.10 C1450.58,238.88 1450.87,237.62 1451.10,236.40 C1451.33,235.18 1451.50,234.00 1451.80,232.80 C1452.10,231.60 1452.48,230.40 1452.90,229.20 C1453.32,228.00 1453.75,226.80 1454.30,225.60 C1454.85,224.40 1455.58,223.20 1456.20,222.00 C1456.82,220.80 1457.22,219.60 1458.00,218.40 C1458.78,217.20 1459.95,216.02 1460.90,214.80 C1461.85,213.58 1462.75,212.32 1463.70,211.10 C1464.65,209.88 1465.68,208.70 1466.60,207.50 C1467.52,206.30 1468.62,205.10 1469.20,203.90 C1469.78,202.70 1469.65,202.10 1470.10,200.30 C1470.55,198.50 1471.55,195.52 1471.90,193.10 C1472.25,190.68 1472.15,187.43 1472.20,185.80 C1472.25,184.17 1472.20,183.72 1472.20,183.30 Z" fill="#fb3a40" stroke="none"/>
<line x1="1441.32" y1="269.2" x2="1503.08" y2="269.2" stroke="#000" stroke-width="1.8" stroke-dasharray="1.7 3.76"/>
<line x1="1435.20" y1="293.7" x2="1509.20" y2="293.7" stroke="#000" stroke-width="2.3" stroke-dasharray="5.5 3.56"/>
<line x1="1433.13" y1="319" x2="1511.27" y2="319" stroke="#000" stroke-width="1.8" stroke-dasharray="1.7 3.76"/>
<path d="M1472.20,183.30 C1472.20,183.72 1472.15,184.17 1472.20,185.80 C1472.25,187.43 1472.15,190.68 1472.50,193.10 C1472.85,195.52 1473.85,198.50 1474.30,200.30 C1474.75,202.10 1474.62,202.70 1475.20,203.90 C1475.78,205.10 1476.88,206.30 1477.80,207.50 C1478.72,208.70 1479.75,209.88 1480.70,211.10 C1481.65,212.32 1482.55,213.58 1483.50,214.80 C1484.45,216.02 1485.62,217.20 1486.40,218.40 C1487.18,219.60 1487.58,220.80 1488.20,222.00 C1488.82,223.20 1489.55,224.40 1490.10,225.60 C1490.65,226.80 1491.08,228.00 1491.50,229.20 C1491.92,230.40 1492.30,231.60 1492.60,232.80 C1492.90,234.00 1493.07,235.18 1493.30,236.40 C1493.53,237.62 1493.82,238.88 1494.00,240.10 C1494.18,241.32 1494.27,242.50 1494.40,243.70 C1494.53,244.90 1494.68,246.10 1494.80,247.30 C1494.92,248.50 1494.97,249.70 1495.10,250.90 C1495.23,252.10 1495.23,253.45 1495.60,254.50 C1495.97,255.55 1496.30,256.15 1497.30,257.20 C1498.30,258.25 1499.92,259.58 1501.60,260.80 C1503.28,262.02 1505.58,263.28 1507.40,264.50 C1509.22,265.72 1511.17,266.90 1512.50,268.10 C1513.83,269.30 1514.68,270.50 1515.40,271.70 C1516.12,272.90 1516.53,274.10 1516.80,275.30 C1517.07,276.50 1517.23,277.70 1517.00,278.90 C1516.77,280.10 1516.03,281.30 1515.40,282.50 C1514.77,283.70 1513.93,284.88 1513.20,286.10 C1512.47,287.32 1511.67,288.58 1511.00,289.80 C1510.33,291.02 1509.50,292.20 1509.20,293.40 C1508.90,294.60 1508.90,295.80 1509.20,297.00 C1509.50,298.20 1510.10,299.40 1511.00,300.60 C1511.90,301.80 1513.40,303.00 1514.60,304.20 C1515.80,305.40 1517.28,306.60 1518.20,307.80 C1519.12,309.00 1519.73,310.18 1520.10,311.40 C1520.47,312.62 1520.58,313.88 1520.40,315.10 C1520.22,316.32 1519.72,317.50 1519.00,318.70 C1518.28,319.90 1517.38,321.18 1516.10,322.30 C1514.82,323.42 1513.28,324.28 1511.30,325.40 C1509.32,326.52 1506.78,327.87 1504.20,329.00 C1501.62,330.13 1497.68,331.07 1495.80,332.20 C1493.92,333.33 1493.55,334.58 1492.90,335.80 C1492.25,337.02 1492.37,338.28 1491.90,339.50 C1491.43,340.72 1490.88,341.90 1490.10,343.10 C1489.32,344.30 1488.30,345.50 1487.20,346.70 C1486.10,347.90 1484.58,349.10 1483.50,350.30 C1482.42,351.50 1481.53,352.70 1480.70,353.90 C1479.87,355.10 1479.05,356.30 1478.50,357.50 C1477.95,358.70 1477.65,359.28 1477.40,361.10 C1477.15,362.92 1477.00,365.98 1477.00,368.40 C1477.00,370.82 1477.33,373.20 1477.40,375.60 C1477.47,378.00 1477.40,380.38 1477.40,382.80 C1477.40,385.22 1477.50,387.68 1477.40,390.10 C1477.30,392.52 1477.03,395.35 1476.80,397.30 C1476.57,399.25 1476.32,400.27 1476.00,401.80 C1475.68,403.33 1475.18,405.38 1474.90,406.50 C1474.62,407.62 1474.62,407.03 1474.30,408.50 C1473.98,409.97 1473.35,413.03 1473.00,415.30 C1472.65,417.57 1472.33,419.35 1472.20,422.10 C1472.07,424.85 1472.20,430.18 1472.20,431.80 L1472.20,431.80 C1472.20,430.18 1472.33,424.85 1472.20,422.10 C1472.07,419.35 1471.75,417.57 1471.40,415.30 C1471.05,413.03 1470.42,409.97 1470.10,408.50 C1469.78,407.03 1469.78,407.62 1469.50,406.50 C1469.22,405.38 1468.72,403.33 1468.40,401.80 C1468.08,400.27 1467.83,399.25 1467.60,397.30 C1467.37,395.35 1467.10,392.52 1467.00,390.10 C1466.90,387.68 1467.00,385.22 1467.00,382.80 C1467.00,380.38 1466.93,378.00 1467.00,375.60 C1467.07,373.20 1467.40,370.82 1467.40,368.40 C1467.40,365.98 1467.25,362.92 1467.00,361.10 C1466.75,359.28 1466.45,358.70 1465.90,357.50 C1465.35,356.30 1464.53,355.10 1463.70,353.90 C1462.87,352.70 1461.98,351.50 1460.90,350.30 C1459.82,349.10 1458.30,347.90 1457.20,346.70 C1456.10,345.50 1455.08,344.30 1454.30,343.10 C1453.52,341.90 1452.97,340.72 1452.50,339.50 C1452.03,338.28 1452.15,337.02 1451.50,335.80 C1450.85,334.58 1450.48,333.33 1448.60,332.20 C1446.72,331.07 1442.78,330.13 1440.20,329.00 C1437.62,327.87 1435.08,326.52 1433.10,325.40 C1431.12,324.28 1429.58,323.42 1428.30,322.30 C1427.02,321.18 1426.12,319.90 1425.40,318.70 C1424.68,317.50 1424.18,316.32 1424.00,315.10 C1423.82,313.88 1423.93,312.62 1424.30,311.40 C1424.67,310.18 1425.28,309.00 1426.20,307.80 C1427.12,306.60 1428.60,305.40 1429.80,304.20 C1431.00,303.00 1432.50,301.80 1433.40,300.60 C1434.30,299.40 1434.90,298.20 1435.20,297.00 C1435.50,295.80 1435.50,294.60 1435.20,293.40 C1434.90,292.20 1434.07,291.02 1433.40,289.80 C1432.73,288.58 1431.93,287.32 1431.20,286.10 C1430.47,284.88 1429.63,283.70 1429.00,282.50 C1428.37,281.30 1427.63,280.10 1427.40,278.90 C1427.17,277.70 1427.33,276.50 1427.60,275.30 C1427.87,274.10 1428.28,272.90 1429.00,271.70 C1429.72,270.50 1430.57,269.30 1431.90,268.10 C1433.23,266.90 1435.18,265.72 1437.00,264.50 C1438.82,263.28 1441.12,262.02 1442.80,260.80 C1444.48,259.58 1446.10,258.25 1447.10,257.20 C1448.10,256.15 1448.43,255.55 1448.80,254.50 C1449.17,253.45 1449.17,252.10 1449.30,250.90 C1449.43,249.70 1449.48,248.50 1449.60,247.30 C1449.72,246.10 1449.87,244.90 1450.00,243.70 C1450.13,242.50 1450.22,241.32 1450.40,240.10 C1450.58,238.88 1450.87,237.62 1451.10,236.40 C1451.33,235.18 1451.50,234.00 1451.80,232.80 C1452.10,231.60 1452.48,230.40 1452.90,229.20 C1453.32,228.00 1453.75,226.80 1454.30,225.60 C1454.85,224.40 1455.58,223.20 1456.20,222.00 C1456.82,220.80 1457.22,219.60 1458.00,218.40 C1458.78,217.20 1459.95,216.02 1460.90,214.80 C1461.85,213.58 1462.75,212.32 1463.70,211.10 C1464.65,209.88 1465.68,208.70 1466.60,207.50 C1467.52,206.30 1468.62,205.10 1469.20,203.90 C1469.78,202.70 1469.65,202.10 1470.10,200.30 C1470.55,198.50 1471.55,195.52 1471.90,193.10 C1472.25,190.68 1472.15,187.43 1472.20,185.80 C1472.25,184.17 1472.20,183.72 1472.20,183.30 Z" fill="none" stroke="#000" stroke-width="5.9" stroke-linejoin="round" stroke-linecap="round"/>
<path d="M1625.10,155.20 C1625.10,155.80 1625.07,156.98 1625.10,158.80 C1625.13,160.62 1625.12,163.68 1625.30,166.10 C1625.48,168.52 1625.78,171.50 1626.20,173.30 C1626.62,175.10 1627.28,175.70 1627.80,176.90 C1628.32,178.10 1628.87,179.30 1629.30,180.50 C1629.73,181.70 1630.03,182.88 1630.40,184.10 C1630.77,185.32 1631.15,186.58 1631.50,187.80 C1631.85,189.02 1632.08,190.20 1632.50,191.40 C1632.92,192.60 1633.45,193.80 1634.00,195.00 C1634.55,196.20 1635.02,197.40 1635.80,198.60 C1636.58,199.80 1637.73,201.00 1638.70,202.20 C1639.67,203.40 1640.63,204.60 1641.60,205.80 C1642.57,207.00 1643.60,208.18 1644.50,209.40 C1645.40,210.62 1646.28,211.88 1647.00,213.10 C1647.72,214.32 1648.20,215.50 1648.80,216.70 C1649.40,217.90 1650.05,219.10 1650.60,220.30 C1651.15,221.50 1651.60,222.78 1652.10,223.90 C1652.60,225.02 1652.77,225.98 1653.60,227.00 C1654.43,228.02 1655.97,229.13 1657.10,230.00 C1658.23,230.87 1659.02,231.23 1660.40,232.20 C1661.78,233.17 1664.08,234.58 1665.40,235.80 C1666.72,237.02 1667.57,238.28 1668.30,239.50 C1669.03,240.72 1669.50,241.90 1669.80,243.10 C1670.10,244.30 1669.98,245.50 1670.10,246.70 C1670.22,247.90 1670.37,249.10 1670.50,250.30 C1670.63,251.50 1670.67,252.70 1670.90,253.90 C1671.13,255.10 1671.60,256.30 1671.90,257.50 C1672.20,258.70 1672.57,259.88 1672.70,261.10 C1672.83,262.32 1672.95,263.58 1672.70,264.80 C1672.45,266.02 1672.17,267.20 1671.20,268.40 C1670.23,269.60 1668.70,270.80 1666.90,272.00 C1665.10,273.20 1662.45,274.40 1660.40,275.60 C1658.35,276.80 1656.17,278.00 1654.60,279.20 C1653.03,280.40 1651.85,281.60 1651.00,282.80 C1650.15,284.00 1649.62,285.18 1649.50,286.40 C1649.38,287.62 1649.70,288.88 1650.30,290.10 C1650.90,291.32 1652.15,292.50 1653.10,293.70 C1654.05,294.90 1654.97,296.08 1656.00,297.30 C1657.03,298.52 1658.58,299.80 1659.30,301.00 C1660.02,302.20 1660.37,303.47 1660.30,304.50 C1660.23,305.53 1659.48,306.15 1658.90,307.20 C1658.32,308.25 1657.63,309.58 1656.80,310.80 C1655.97,312.02 1654.87,313.28 1653.90,314.50 C1652.93,315.72 1652.08,316.90 1651.00,318.10 C1649.92,319.30 1648.60,320.50 1647.40,321.70 C1646.20,322.90 1645.02,324.10 1643.80,325.30 C1642.58,326.50 1641.32,327.70 1640.10,328.90 C1638.88,330.10 1637.58,331.30 1636.50,332.50 C1635.42,333.70 1634.43,334.88 1633.60,336.10 C1632.77,337.32 1632.15,338.58 1631.50,339.80 C1630.85,341.02 1630.18,342.20 1629.70,343.40 C1629.22,344.60 1628.88,345.80 1628.60,347.00 C1628.32,348.20 1628.15,348.80 1628.00,350.60 C1627.85,352.40 1627.70,355.38 1627.70,357.80 C1627.70,360.22 1628.00,362.68 1628.00,365.10 C1628.00,367.52 1627.77,370.35 1627.70,372.30 C1627.63,374.25 1627.62,374.93 1627.60,376.80 C1627.58,378.67 1627.48,381.25 1627.60,383.50 C1627.72,385.75 1628.30,388.03 1628.30,390.30 C1628.30,392.57 1627.93,394.83 1627.60,397.10 C1627.27,399.37 1626.63,401.65 1626.30,403.90 C1625.97,406.15 1625.80,408.35 1625.60,410.60 C1625.40,412.85 1625.18,414.88 1625.10,417.40 C1625.02,419.92 1625.10,424.32 1625.10,425.70 L1625.10,425.70 C1625.10,424.32 1625.18,419.92 1625.10,417.40 C1625.02,414.88 1624.80,412.85 1624.60,410.60 C1624.40,408.35 1624.23,406.15 1623.90,403.90 C1623.57,401.65 1622.93,399.37 1622.60,397.10 C1622.27,394.83 1621.90,392.57 1621.90,390.30 C1621.90,388.03 1622.48,385.75 1622.60,383.50 C1622.72,381.25 1622.62,378.67 1622.60,376.80 C1622.58,374.93 1622.57,374.25 1622.50,372.30 C1622.43,370.35 1622.20,367.52 1622.20,365.10 C1622.20,362.68 1622.50,360.22 1622.50,357.80 C1622.50,355.38 1622.35,352.40 1622.20,350.60 C1622.05,348.80 1621.88,348.20 1621.60,347.00 C1621.32,345.80 1620.98,344.60 1620.50,343.40 C1620.02,342.20 1619.35,341.02 1618.70,339.80 C1618.05,338.58 1617.43,337.32 1616.60,336.10 C1615.77,334.88 1614.78,333.70 1613.70,332.50 C1612.62,331.30 1611.32,330.10 1610.10,328.90 C1608.88,327.70 1607.62,326.50 1606.40,325.30 C1605.18,324.10 1604.00,322.90 1602.80,321.70 C1601.60,320.50 1600.28,319.30 1599.20,318.10 C1598.12,316.90 1597.27,315.72 1596.30,314.50 C1595.33,313.28 1594.23,312.02 1593.40,310.80 C1592.57,309.58 1591.88,308.25 1591.30,307.20 C1590.72,306.15 1589.97,305.53 1589.90,304.50 C1589.83,303.47 1590.18,302.20 1590.90,301.00 C1591.62,299.80 1593.17,298.52 1594.20,297.30 C1595.23,296.08 1596.15,294.90 1597.10,293.70 C1598.05,292.50 1599.30,291.32 1599.90,290.10 C1600.50,288.88 1600.82,287.62 1600.70,286.40 C1600.58,285.18 1600.05,284.00 1599.20,282.80 C1598.35,281.60 1597.17,280.40 1595.60,279.20 C1594.03,278.00 1591.85,276.80 1589.80,275.60 C1587.75,274.40 1585.10,273.20 1583.30,272.00 C1581.50,270.80 1579.97,269.60 1579.00,268.40 C1578.03,267.20 1577.75,266.02 1577.50,264.80 C1577.25,263.58 1577.37,262.32 1577.50,261.10 C1577.63,259.88 1578.00,258.70 1578.30,257.50 C1578.60,256.30 1579.07,255.10 1579.30,253.90 C1579.53,252.70 1579.57,251.50 1579.70,250.30 C1579.83,249.10 1579.98,247.90 1580.10,246.70 C1580.22,245.50 1580.10,244.30 1580.40,243.10 C1580.70,241.90 1581.17,240.72 1581.90,239.50 C1582.63,238.28 1583.48,237.02 1584.80,235.80 C1586.12,234.58 1588.42,233.17 1589.80,232.20 C1591.18,231.23 1591.97,230.87 1593.10,230.00 C1594.23,229.13 1595.77,228.02 1596.60,227.00 C1597.43,225.98 1597.60,225.02 1598.10,223.90 C1598.60,222.78 1599.05,221.50 1599.60,220.30 C1600.15,219.10 1600.80,217.90 1601.40,216.70 C1602.00,215.50 1602.48,214.32 1603.20,213.10 C1603.92,211.88 1604.80,210.62 1605.70,209.40 C1606.60,208.18 1607.63,207.00 1608.60,205.80 C1609.57,204.60 1610.53,203.40 1611.50,202.20 C1612.47,201.00 1613.62,199.80 1614.40,198.60 C1615.18,197.40 1615.65,196.20 1616.20,195.00 C1616.75,193.80 1617.28,192.60 1617.70,191.40 C1618.12,190.20 1618.35,189.02 1618.70,187.80 C1619.05,186.58 1619.43,185.32 1619.80,184.10 C1620.17,182.88 1620.47,181.70 1620.90,180.50 C1621.33,179.30 1621.88,178.10 1622.40,176.90 C1622.92,175.70 1623.58,175.10 1624.00,173.30 C1624.42,171.50 1624.72,168.52 1624.90,166.10 C1625.08,163.68 1625.07,160.62 1625.10,158.80 C1625.13,156.98 1625.10,155.80 1625.10,155.20 Z" fill="#fb3a40" stroke="none"/>
<line x1="1588.76" y1="239.8" x2="1661.44" y2="239.8" stroke="#000" stroke-width="1.8" stroke-dasharray="1.7 3.76"/>
<line x1="1578.33" y1="266.8" x2="1671.87" y2="266.8" stroke="#000" stroke-width="2.3" stroke-dasharray="5.5 3.56"/>
<line x1="1596.95" y1="303.5" x2="1653.25" y2="303.5" stroke="#000" stroke-width="1.8" stroke-dasharray="1.7 3.76"/>
<path d="M1625.10,155.20 C1625.10,155.80 1625.07,156.98 1625.10,158.80 C1625.13,160.62 1625.12,163.68 1625.30,166.10 C1625.48,168.52 1625.78,171.50 1626.20,173.30 C1626.62,175.10 1627.28,175.70 1627.80,176.90 C1628.32,178.10 1628.87,179.30 1629.30,180.50 C1629.73,181.70 1630.03,182.88 1630.40,184.10 C1630.77,185.32 1631.15,186.58 1631.50,187.80 C1631.85,189.02 1632.08,190.20 1632.50,191.40 C1632.92,192.60 1633.45,193.80 1634.00,195.00 C1634.55,196.20 1635.02,197.40 1635.80,198.60 C1636.58,199.80 1637.73,201.00 1638.70,202.20 C1639.67,203.40 1640.63,204.60 1641.60,205.80 C1642.57,207.00 1643.60,208.18 1644.50,209.40 C1645.40,210.62 1646.28,211.88 1647.00,213.10 C1647.72,214.32 1648.20,215.50 1648.80,216.70 C1649.40,217.90 1650.05,219.10 1650.60,220.30 C1651.15,221.50 1651.60,222.78 1652.10,223.90 C1652.60,225.02 1652.77,225.98 1653.60,227.00 C1654.43,228.02 1655.97,229.13 1657.10,230.00 C1658.23,230.87 1659.02,231.23 1660.40,232.20 C1661.78,233.17 1664.08,234.58 1665.40,235.80 C1666.72,237.02 1667.57,238.28 1668.30,239.50 C1669.03,240.72 1669.50,241.90 1669.80,243.10 C1670.10,244.30 1669.98,245.50 1670.10,246.70 C1670.22,247.90 1670.37,249.10 1670.50,250.30 C1670.63,251.50 1670.67,252.70 1670.90,253.90 C1671.13,255.10 1671.60,256.30 1671.90,257.50 C1672.20,258.70 1672.57,259.88 1672.70,261.10 C1672.83,262.32 1672.95,263.58 1672.70,264.80 C1672.45,266.02 1672.17,267.20 1671.20,268.40 C1670.23,269.60 1668.70,270.80 1666.90,272.00 C1665.10,273.20 1662.45,274.40 1660.40,275.60 C1658.35,276.80 1656.17,278.00 1654.60,279.20 C1653.03,280.40 1651.85,281.60 1651.00,282.80 C1650.15,284.00 1649.62,285.18 1649.50,286.40 C1649.38,287.62 1649.70,288.88 1650.30,290.10 C1650.90,291.32 1652.15,292.50 1653.10,293.70 C1654.05,294.90 1654.97,296.08 1656.00,297.30 C1657.03,298.52 1658.58,299.80 1659.30,301.00 C1660.02,302.20 1660.37,303.47 1660.30,304.50 C1660.23,305.53 1659.48,306.15 1658.90,307.20 C1658.32,308.25 1657.63,309.58 1656.80,310.80 C1655.97,312.02 1654.87,313.28 1653.90,314.50 C1652.93,315.72 1652.08,316.90 1651.00,318.10 C1649.92,319.30 1648.60,320.50 1647.40,321.70 C1646.20,322.90 1645.02,324.10 1643.80,325.30 C1642.58,326.50 1641.32,327.70 1640.10,328.90 C1638.88,330.10 1637.58,331.30 1636.50,332.50 C1635.42,333.70 1634.43,334.88 1633.60,336.10 C1632.77,337.32 1632.15,338.58 1631.50,339.80 C1630.85,341.02 1630.18,342.20 1629.70,343.40 C1629.22,344.60 1628.88,345.80 1628.60,347.00 C1628.32,348.20 1628.15,348.80 1628.00,350.60 C1627.85,352.40 1627.70,355.38 1627.70,357.80 C1627.70,360.22 1628.00,362.68 1628.00,365.10 C1628.00,367.52 1627.77,370.35 1627.70,372.30 C1627.63,374.25 1627.62,374.93 1627.60,376.80 C1627.58,378.67 1627.48,381.25 1627.60,383.50 C1627.72,385.75 1628.30,388.03 1628.30,390.30 C1628.30,392.57 1627.93,394.83 1627.60,397.10 C1627.27,399.37 1626.63,401.65 1626.30,403.90 C1625.97,406.15 1625.80,408.35 1625.60,410.60 C1625.40,412.85 1625.18,414.88 1625.10,417.40 C1625.02,419.92 1625.10,424.32 1625.10,425.70 L1625.10,425.70 C1625.10,424.32 1625.18,419.92 1625.10,417.40 C1625.02,414.88 1624.80,412.85 1624.60,410.60 C1624.40,408.35 1624.23,406.15 1623.90,403.90 C1623.57,401.65 1622.93,399.37 1622.60,397.10 C1622.27,394.83 1621.90,392.57 1621.90,390.30 C1621.90,388.03 1622.48,385.75 1622.60,383.50 C1622.72,381.25 1622.62,378.67 1622.60,376.80 C1622.58,374.93 1622.57,374.25 1622.50,372.30 C1622.43,370.35 1622.20,367.52 1622.20,365.10 C1622.20,362.68 1622.50,360.22 1622.50,357.80 C1622.50,355.38 1622.35,352.40 1622.20,350.60 C1622.05,348.80 1621.88,348.20 1621.60,347.00 C1621.32,345.80 1620.98,344.60 1620.50,343.40 C1620.02,342.20 1619.35,341.02 1618.70,339.80 C1618.05,338.58 1617.43,337.32 1616.60,336.10 C1615.77,334.88 1614.78,333.70 1613.70,332.50 C1612.62,331.30 1611.32,330.10 1610.10,328.90 C1608.88,327.70 1607.62,326.50 1606.40,325.30 C1605.18,324.10 1604.00,322.90 1602.80,321.70 C1601.60,320.50 1600.28,319.30 1599.20,318.10 C1598.12,316.90 1597.27,315.72 1596.30,314.50 C1595.33,313.28 1594.23,312.02 1593.40,310.80 C1592.57,309.58 1591.88,308.25 1591.30,307.20 C1590.72,306.15 1589.97,305.53 1589.90,304.50 C1589.83,303.47 1590.18,302.20 1590.90,301.00 C1591.62,299.80 1593.17,298.52 1594.20,297.30 C1595.23,296.08 1596.15,294.90 1597.10,293.70 C1598.05,292.50 1599.30,291.32 1599.90,290.10 C1600.50,288.88 1600.82,287.62 1600.70,286.40 C1600.58,285.18 1600.05,284.00 1599.20,282.80 C1598.35,281.60 1597.17,280.40 1595.60,279.20 C1594.03,278.00 1591.85,276.80 1589.80,275.60 C1587.75,274.40 1585.10,273.20 1583.30,272.00 C1581.50,270.80 1579.97,269.60 1579.00,268.40 C1578.03,267.20 1577.75,266.02 1577.50,264.80 C1577.25,263.58 1577.37,262.32 1577.50,261.10 C1577.63,259.88 1578.00,258.70 1578.30,257.50 C1578.60,256.30 1579.07,255.10 1579.30,253.90 C1579.53,252.70 1579.57,251.50 1579.70,250.30 C1579.83,249.10 1579.98,247.90 1580.10,246.70 C1580.22,245.50 1580.10,244.30 1580.40,243.10 C1580.70,241.90 1581.17,240.72 1581.90,239.50 C1582.63,238.28 1583.48,237.02 1584.80,235.80 C1586.12,234.58 1588.42,233.17 1589.80,232.20 C1591.18,231.23 1591.97,230.87 1593.10,230.00 C1594.23,229.13 1595.77,228.02 1596.60,227.00 C1597.43,225.98 1597.60,225.02 1598.10,223.90 C1598.60,222.78 1599.05,221.50 1599.60,220.30 C1600.15,219.10 1600.80,217.90 1601.40,216.70 C1602.00,215.50 1602.48,214.32 1603.20,213.10 C1603.92,211.88 1604.80,210.62 1605.70,209.40 C1606.60,208.18 1607.63,207.00 1608.60,205.80 C1609.57,204.60 1610.53,203.40 1611.50,202.20 C1612.47,201.00 1613.62,199.80 1614.40,198.60 C1615.18,197.40 1615.65,196.20 1616.20,195.00 C1616.75,193.80 1617.28,192.60 1617.70,191.40 C1618.12,190.20 1618.35,189.02 1618.70,187.80 C1619.05,186.58 1619.43,185.32 1619.80,184.10 C1620.17,182.88 1620.47,181.70 1620.90,180.50 C1621.33,179.30 1621.88,178.10 1622.40,176.90 C1622.92,175.70 1623.58,175.10 1624.00,173.30 C1624.42,171.50 1624.72,168.52 1624.90,166.10 C1625.08,163.68 1625.07,160.62 1625.10,158.80 C1625.13,156.98 1625.10,155.80 1625.10,155.20 Z" fill="none" stroke="#000" stroke-width="5.9" stroke-linejoin="round" stroke-linecap="round"/>
<path d="M264.40,788.00 C264.40,788.47 264.33,789.72 264.40,790.80 C264.47,791.88 264.35,793.28 264.80,794.50 C265.25,795.72 265.98,796.90 267.10,798.10 C268.22,799.30 270.17,800.50 271.50,801.70 C272.83,802.90 274.20,804.10 275.10,805.30 C276.00,806.50 276.53,807.70 276.90,808.90 C277.27,810.10 277.00,811.30 277.30,812.50 C277.60,813.70 277.73,814.88 278.70,816.10 C279.67,817.32 281.53,818.58 283.10,819.80 C284.67,821.02 286.85,822.20 288.10,823.40 C289.35,824.60 290.12,825.80 290.60,827.00 C291.08,828.20 290.45,829.40 291.00,830.60 C291.55,831.80 292.22,833.00 293.90,834.20 C295.58,835.40 298.82,836.60 301.10,837.80 C303.38,839.00 305.78,840.18 307.60,841.40 C309.42,842.62 311.45,843.88 312.00,845.10 C312.55,846.32 312.42,847.50 310.90,848.70 C309.38,849.90 306.15,851.10 302.90,852.30 C299.65,853.50 294.82,854.70 291.40,855.90 C287.98,857.10 284.73,858.48 282.40,859.50 C280.07,860.52 278.62,861.17 277.40,862.00 C276.18,862.83 275.72,863.48 275.10,864.50 C274.48,865.52 274.00,866.90 273.70,868.10 C273.40,869.30 273.92,870.50 273.30,871.70 C272.68,872.90 271.03,873.92 270.00,875.30 C268.97,876.68 267.95,878.58 267.10,880.00 C266.25,881.42 265.10,882.57 264.90,883.80 C264.70,885.03 265.22,886.20 265.90,887.40 C266.58,888.60 268.07,889.80 269.00,891.00 C269.93,892.20 270.72,893.40 271.50,894.60 C272.28,895.80 273.40,897.03 273.70,898.20 C274.00,899.37 273.85,900.47 273.30,901.60 C272.75,902.73 271.43,903.87 270.40,905.00 C269.37,906.13 268.03,907.27 267.10,908.40 C266.17,909.53 265.25,910.20 264.80,911.80 C264.35,913.40 264.47,916.97 264.40,918.00 L264.40,918.00 C264.33,916.97 264.45,913.40 264.00,911.80 C263.55,910.20 262.63,909.53 261.70,908.40 C260.77,907.27 259.43,906.13 258.40,905.00 C257.37,903.87 256.05,902.73 255.50,901.60 C254.95,900.47 254.80,899.37 255.10,898.20 C255.40,897.03 256.52,895.80 257.30,894.60 C258.08,893.40 258.87,892.20 259.80,891.00 C260.73,889.80 262.22,888.60 262.90,887.40 C263.58,886.20 264.10,885.03 263.90,883.80 C263.70,882.57 262.55,881.42 261.70,880.00 C260.85,878.58 259.83,876.68 258.80,875.30 C257.77,873.92 256.12,872.90 255.50,871.70 C254.88,870.50 255.40,869.30 255.10,868.10 C254.80,866.90 254.32,865.52 253.70,864.50 C253.08,863.48 252.62,862.83 251.40,862.00 C250.18,861.17 248.73,860.52 246.40,859.50 C244.07,858.48 240.82,857.10 237.40,855.90 C233.98,854.70 229.15,853.50 225.90,852.30 C222.65,851.10 219.42,849.90 217.90,848.70 C216.38,847.50 216.25,846.32 216.80,845.10 C217.35,843.88 219.38,842.62 221.20,841.40 C223.02,840.18 225.42,839.00 227.70,837.80 C229.98,836.60 233.22,835.40 234.90,834.20 C236.58,833.00 237.25,831.80 237.80,830.60 C238.35,829.40 237.72,828.20 238.20,827.00 C238.68,825.80 239.45,824.60 240.70,823.40 C241.95,822.20 244.13,821.02 245.70,819.80 C247.27,818.58 249.13,817.32 250.10,816.10 C251.07,814.88 251.20,813.70 251.50,812.50 C251.80,811.30 251.53,810.10 251.90,808.90 C252.27,807.70 252.80,806.50 253.70,805.30 C254.60,804.10 255.97,802.90 257.30,801.70 C258.63,800.50 260.58,799.30 261.70,798.10 C262.82,796.90 263.55,795.72 264.00,794.50 C264.45,793.28 264.33,791.88 264.40,790.80 C264.47,789.72 264.40,788.47 264.40,788.00 Z" fill="#828282" stroke="none"/>
<line x1="244.44" y1="827.7" x2="284.36" y2="827.7" stroke="#000" stroke-width="1.8" stroke-dasharray="1.7 3.76"/>
<line x1="217.28" y1="844.7" x2="311.52" y2="844.7" stroke="#000" stroke-width="2.3" stroke-dasharray="5.5 3.56"/>
<line x1="241.71" y1="853.2" x2="287.09" y2="853.2" stroke="#000" stroke-width="1.8" stroke-dasharray="1.7 3.76"/>
<path d="M264.40,788.00 C264.40,788.47 264.33,789.72 264.40,790.80 C264.47,791.88 264.35,793.28 264.80,794.50 C265.25,795.72 265.98,796.90 267.10,798.10 C268.22,799.30 270.17,800.50 271.50,801.70 C272.83,802.90 274.20,804.10 275.10,805.30 C276.00,806.50 276.53,807.70 276.90,808.90 C277.27,810.10 277.00,811.30 277.30,812.50 C277.60,813.70 277.73,814.88 278.70,816.10 C279.67,817.32 281.53,818.58 283.10,819.80 C284.67,821.02 286.85,822.20 288.10,823.40 C289.35,824.60 290.12,825.80 290.60,827.00 C291.08,828.20 290.45,829.40 291.00,830.60 C291.55,831.80 292.22,833.00 293.90,834.20 C295.58,835.40 298.82,836.60 301.10,837.80 C303.38,839.00 305.78,840.18 307.60,841.40 C309.42,842.62 311.45,843.88 312.00,845.10 C312.55,846.32 312.42,847.50 310.90,848.70 C309.38,849.90 306.15,851.10 302.90,852.30 C299.65,853.50 294.82,854.70 291.40,855.90 C287.98,857.10 284.73,858.48 282.40,859.50 C280.07,860.52 278.62,861.17 277.40,862.00 C276.18,862.83 275.72,863.48 275.10,864.50 C274.48,865.52 274.00,866.90 273.70,868.10 C273.40,869.30 273.92,870.50 273.30,871.70 C272.68,872.90 271.03,873.92 270.00,875.30 C268.97,876.68 267.95,878.58 267.10,880.00 C266.25,881.42 265.10,882.57 264.90,883.80 C264.70,885.03 265.22,886.20 265.90,887.40 C266.58,888.60 268.07,889.80 269.00,891.00 C269.93,892.20 270.72,893.40 271.50,894.60 C272.28,895.80 273.40,897.03 273.70,898.20 C274.00,899.37 273.85,900.47 273.30,901.60 C272.75,902.73 271.43,903.87 270.40,905.00 C269.37,906.13 268.03,907.27 267.10,908.40 C266.17,909.53 265.25,910.20 264.80,911.80 C264.35,913.40 264.47,916.97 264.40,918.00 L264.40,918.00 C264.33,916.97 264.45,913.40 264.00,911.80 C263.55,910.20 262.63,909.53 261.70,908.40 C260.77,907.27 259.43,906.13 258.40,905.00 C257.37,903.87 256.05,902.73 255.50,901.60 C254.95,900.47 254.80,899.37 255.10,898.20 C255.40,897.03 256.52,895.80 257.30,894.60 C258.08,893.40 258.87,892.20 259.80,891.00 C260.73,889.80 262.22,888.60 262.90,887.40 C263.58,886.20 264.10,885.03 263.90,883.80 C263.70,882.57 262.55,881.42 261.70,880.00 C260.85,878.58 259.83,876.68 258.80,875.30 C257.77,873.92 256.12,872.90 255.50,871.70 C254.88,870.50 255.40,869.30 255.10,868.10 C254.80,866.90 254.32,865.52 253.70,864.50 C253.08,863.48 252.62,862.83 251.40,862.00 C250.18,861.17 248.73,860.52 246.40,859.50 C244.07,858.48 240.82,857.10 237.40,855.90 C233.98,854.70 229.15,853.50 225.90,852.30 C222.65,851.10 219.42,849.90 217.90,848.70 C216.38,847.50 216.25,846.32 216.80,845.10 C217.35,843.88 219.38,842.62 221.20,841.40 C223.02,840.18 225.42,839.00 227.70,837.80 C229.98,836.60 233.22,835.40 234.90,834.20 C236.58,833.00 237.25,831.80 237.80,830.60 C238.35,829.40 237.72,828.20 238.20,827.00 C238.68,825.80 239.45,824.60 240.70,823.40 C241.95,822.20 244.13,821.02 245.70,819.80 C247.27,818.58 249.13,817.32 250.10,816.10 C251.07,814.88 251.20,813.70 251.50,812.50 C251.80,811.30 251.53,810.10 251.90,808.90 C252.27,807.70 252.80,806.50 253.70,805.30 C254.60,804.10 255.97,802.90 257.30,801.70 C258.63,800.50 260.58,799.30 261.70,798.10 C262.82,796.90 263.55,795.72 264.00,794.50 C264.45,793.28 264.33,791.88 264.40,790.80 C264.47,789.72 264.40,788.47 264.40,788.00 Z" fill="none" stroke="#000" stroke-width="5.9" stroke-linejoin="round" stroke-linecap="round"/>
<path d="M417.20,765.80 C417.20,766.03 417.08,765.75 417.20,767.20 C417.32,768.65 417.60,772.68 417.90,774.50 C418.20,776.32 418.63,776.90 419.00,778.10 C419.37,779.30 419.63,780.50 420.10,781.70 C420.57,782.90 420.95,784.10 421.80,785.30 C422.65,786.50 423.87,787.70 425.20,788.90 C426.53,790.10 428.28,791.30 429.80,792.50 C431.32,793.70 433.25,794.88 434.30,796.10 C435.35,797.32 435.67,798.58 436.10,799.80 C436.53,801.02 436.23,802.20 436.90,803.40 C437.57,804.60 438.60,805.80 440.10,807.00 C441.60,808.20 444.08,809.40 445.90,810.60 C447.72,811.80 449.62,813.00 451.00,814.20 C452.38,815.40 453.37,816.60 454.20,817.80 C455.03,819.00 455.58,820.18 456.00,821.40 C456.42,822.62 456.10,823.88 456.70,825.10 C457.30,826.32 458.52,827.50 459.60,828.70 C460.68,829.90 462.30,831.10 463.20,832.30 C464.10,833.50 464.75,834.78 465.00,835.90 C465.25,837.02 465.80,837.87 464.70,839.00 C463.60,840.13 460.35,841.45 458.40,842.70 C456.45,843.95 454.03,845.22 453.00,846.50 C451.97,847.78 451.82,849.12 452.20,850.40 C452.58,851.68 454.40,852.93 455.30,854.20 C456.20,855.47 457.48,856.72 457.60,858.00 C457.72,859.28 457.42,860.62 456.00,861.90 C454.58,863.18 451.40,864.43 449.10,865.70 C446.80,866.97 444.50,868.22 442.20,869.50 C439.90,870.78 437.22,872.12 435.30,873.40 C433.38,874.68 432.10,875.92 430.70,877.20 C429.30,878.48 427.92,879.82 426.90,881.10 C425.88,882.38 425.25,883.63 424.60,884.90 C423.95,886.17 423.45,887.42 423.00,888.70 C422.55,889.98 422.35,891.32 421.90,892.60 C421.45,893.88 420.68,895.12 420.30,896.40 C419.92,897.68 420.05,899.02 419.60,900.30 C419.15,901.58 418.00,901.83 417.60,904.10 C417.20,906.37 417.27,912.27 417.20,913.90 L417.20,913.90 C417.13,912.27 417.20,906.37 416.80,904.10 C416.40,901.83 415.25,901.58 414.80,900.30 C414.35,899.02 414.48,897.68 414.10,896.40 C413.72,895.12 412.95,893.88 412.50,892.60 C412.05,891.32 411.85,889.98 411.40,888.70 C410.95,887.42 410.45,886.17 409.80,884.90 C409.15,883.63 408.52,882.38 407.50,881.10 C406.48,879.82 405.10,878.48 403.70,877.20 C402.30,875.92 401.02,874.68 399.10,873.40 C397.18,872.12 394.50,870.78 392.20,869.50 C389.90,868.22 387.60,866.97 385.30,865.70 C383.00,864.43 379.82,863.18 378.40,861.90 C376.98,860.62 376.68,859.28 376.80,858.00 C376.92,856.72 378.20,855.47 379.10,854.20 C380.00,852.93 381.82,851.68 382.20,850.40 C382.58,849.12 382.43,847.78 381.40,846.50 C380.37,845.22 377.95,843.95 376.00,842.70 C374.05,841.45 370.80,840.13 369.70,839.00 C368.60,837.87 369.15,837.02 369.40,835.90 C369.65,834.78 370.30,833.50 371.20,832.30 C372.10,831.10 373.72,829.90 374.80,828.70 C375.88,827.50 377.10,826.32 377.70,825.10 C378.30,823.88 377.98,822.62 378.40,821.40 C378.82,820.18 379.37,819.00 380.20,817.80 C381.03,816.60 382.02,815.40 383.40,814.20 C384.78,813.00 386.68,811.80 388.50,810.60 C390.32,809.40 392.80,808.20 394.30,807.00 C395.80,805.80 396.83,804.60 397.50,803.40 C398.17,802.20 397.87,801.02 398.30,799.80 C398.73,798.58 399.05,797.32 400.10,796.10 C401.15,794.88 403.08,793.70 404.60,792.50 C406.12,791.30 407.87,790.10 409.20,788.90 C410.53,787.70 411.75,786.50 412.60,785.30 C413.45,784.10 413.83,782.90 414.30,781.70 C414.77,780.50 415.03,779.30 415.40,778.10 C415.77,776.90 416.20,776.32 416.50,774.50 C416.80,772.68 417.08,768.65 417.20,767.20 C417.32,765.75 417.20,766.03 417.20,765.80 Z" fill="#828282" stroke="none"/>
<line x1="383.59" y1="820" x2="450.81" y2="820" stroke="#000" stroke-width="1.8" stroke-dasharray="1.7 3.76"/>
<line x1="369.70" y1="839" x2="464.70" y2="839" stroke="#000" stroke-width="2.3" stroke-dasharray="5.5 3.56"/>
<line x1="383.59" y1="860.3" x2="450.81" y2="860.3" stroke="#000" stroke-width="1.8" stroke-dasharray="1.7 3.76"/>
<path d="M417.20,765.80 C417.20,766.03 417.08,765.75 417.20,767.20 C417.32,768.65 417.60,772.68 417.90,774.50 C418.20,776.32 418.63,776.90 419.00,778.10 C419.37,779.30 419.63,780.50 420.10,781.70 C420.57,782.90 420.95,784.10 421.80,785.30 C422.65,786.50 423.87,787.70 425.20,788.90 C426.53,790.10 428.28,791.30 429.80,792.50 C431.32,793.70 433.25,794.88 434.30,796.10 C435.35,797.32 435.67,798.58 436.10,799.80 C436.53,801.02 436.23,802.20 436.90,803.40 C437.57,804.60 438.60,805.80 440.10,807.00 C441.60,808.20 444.08,809.40 445.90,810.60 C447.72,811.80 449.62,813.00 451.00,814.20 C452.38,815.40 453.37,816.60 454.20,817.80 C455.03,819.00 455.58,820.18 456.00,821.40 C456.42,822.62 456.10,823.88 456.70,825.10 C457.30,826.32 458.52,827.50 459.60,828.70 C460.68,829.90 462.30,831.10 463.20,832.30 C464.10,833.50 464.75,834.78 465.00,835.90 C465.25,837.02 465.80,837.87 464.70,839.00 C463.60,840.13 460.35,841.45 458.40,842.70 C456.45,843.95 454.03,845.22 453.00,846.50 C451.97,847.78 451.82,849.12 452.20,850.40 C452.58,851.68 454.40,852.93 455.30,854.20 C456.20,855.47 457.48,856.72 457.60,858.00 C457.72,859.28 457.42,860.62 456.00,861.90 C454.58,863.18 451.40,864.43 449.10,865.70 C446.80,866.97 444.50,868.22 442.20,869.50 C439.90,870.78 437.22,872.12 435.30,873.40 C433.38,874.68 432.10,875.92 430.70,877.20 C429.30,878.48 427.92,879.82 426.90,881.10 C425.88,882.38 425.25,883.63 424.60,884.90 C423.95,886.17 423.45,887.42 423.00,888.70 C422.55,889.98 422.35,891.32 421.90,892.60 C421.45,893.88 420.68,895.12 420.30,896.40 C419.92,897.68 420.05,899.02 419.60,900.30 C419.15,901.58 418.00,901.83 417.60,904.10 C417.20,906.37 417.27,912.27 417.20,913.90 L417.20,913.90 C417.13,912.27 417.20,906.37 416.80,904.10 C416.40,901.83 415.25,901.58 414.80,900.30 C414.35,899.02 414.48,897.68 414.10,896.40 C413.72,895.12 412.95,893.88 412.50,892.60 C412.05,891.32 411.85,889.98 411.40,888.70 C410.95,887.42 410.45,886.17 409.80,884.90 C409.15,883.63 408.52,882.38 407.50,881.10 C406.48,879.82 405.10,878.48 403.70,877.20 C402.30,875.92 401.02,874.68 399.10,873.40 C397.18,872.12 394.50,870.78 392.20,869.50 C389.90,868.22 387.60,866.97 385.30,865.70 C383.00,864.43 379.82,863.18 378.40,861.90 C376.98,860.62 376.68,859.28 376.80,858.00 C376.92,856.72 378.20,855.47 379.10,854.20 C380.00,852.93 381.82,851.68 382.20,850.40 C382.58,849.12 382.43,847.78 381.40,846.50 C380.37,845.22 377.95,843.95 376.00,842.70 C374.05,841.45 370.80,840.13 369.70,839.00 C368.60,837.87 369.15,837.02 369.40,835.90 C369.65,834.78 370.30,833.50 371.20,832.30 C372.10,831.10 373.72,829.90 374.80,828.70 C375.88,827.50 377.10,826.32 377.70,825.10 C378.30,823.88 377.98,822.62 378.40,821.40 C378.82,820.18 379.37,819.00 380.20,817.80 C381.03,816.60 382.02,815.40 383.40,814.20 C384.78,813.00 386.68,811.80 388.50,810.60 C390.32,809.40 392.80,808.20 394.30,807.00 C395.80,805.80 396.83,804.60 397.50,803.40 C398.17,802.20 397.87,801.02 398.30,799.80 C398.73,798.58 399.05,797.32 400.10,796.10 C401.15,794.88 403.08,793.70 404.60,792.50 C406.12,791.30 407.87,790.10 409.20,788.90 C410.53,787.70 411.75,786.50 412.60,785.30 C413.45,784.10 413.83,782.90 414.30,781.70 C414.77,780.50 415.03,779.30 415.40,778.10 C415.77,776.90 416.20,776.32 416.50,774.50 C416.80,772.68 417.08,768.65 417.20,767.20 C417.32,765.75 417.20,766.03 417.20,765.80 Z" fill="none" stroke="#000" stroke-width="5.9" stroke-linejoin="round" stroke-linecap="round"/>
<path d="M570.00,835.90 C570.02,836.27 569.92,836.82 570.10,838.10 C570.28,839.38 570.73,841.78 571.10,843.60 C571.47,845.42 572.10,847.65 572.30,849.00 C572.50,850.35 572.38,850.80 572.30,851.70 C572.22,852.60 572.17,853.05 571.80,854.40 C571.43,855.75 570.40,858.00 570.10,859.80 C569.80,861.60 570.00,863.38 570.00,865.20 C570.00,867.02 569.96,869.33 570.10,870.70 C570.24,872.07 570.54,872.50 570.85,873.40 C571.16,874.30 571.61,875.20 571.95,876.10 C572.29,877.00 572.52,877.45 572.90,878.80 C573.27,880.15 573.85,882.75 574.20,884.20 C574.55,885.65 574.53,886.52 575.00,887.50 C575.47,888.48 575.67,889.07 577.00,890.10 C578.33,891.13 580.80,892.50 583.00,893.70 C585.20,894.90 587.37,896.17 590.20,897.30 C593.03,898.43 597.53,899.33 600.00,900.50 C602.47,901.67 603.95,903.03 605.00,904.30 C606.05,905.57 605.87,906.78 606.30,908.10 C606.73,909.42 606.30,910.83 607.60,912.20 C608.90,913.57 612.45,914.95 614.10,916.30 C615.75,917.65 617.37,918.95 617.50,920.30 C617.63,921.65 617.23,923.03 614.90,924.40 C612.57,925.77 607.03,927.15 603.50,928.50 C599.97,929.85 595.47,931.15 593.70,932.50 C591.93,933.85 592.75,935.23 592.90,936.60 C593.05,937.97 594.73,939.35 594.60,940.70 C594.47,942.05 593.60,943.35 592.10,944.70 C590.60,946.05 587.77,947.45 585.60,948.80 C583.43,950.15 581.07,951.45 579.10,952.80 C577.13,954.15 575.07,955.53 573.80,956.90 C572.53,958.27 571.75,959.65 571.50,961.00 C571.25,962.35 572.10,963.65 572.30,965.00 C572.50,966.35 572.83,967.73 572.70,969.10 C572.57,970.47 571.90,971.85 571.50,973.20 C571.10,974.55 570.55,975.18 570.30,977.20 C570.05,979.22 570.05,983.95 570.00,985.30 L570.00,985.30 C569.95,983.95 569.95,979.22 569.70,977.20 C569.45,975.18 568.90,974.55 568.50,973.20 C568.10,971.85 567.43,970.47 567.30,969.10 C567.17,967.73 567.50,966.35 567.70,965.00 C567.90,963.65 568.75,962.35 568.50,961.00 C568.25,959.65 567.47,958.27 566.20,956.90 C564.93,955.53 562.87,954.15 560.90,952.80 C558.93,951.45 556.57,950.15 554.40,948.80 C552.23,947.45 549.40,946.05 547.90,944.70 C546.40,943.35 545.53,942.05 545.40,940.70 C545.27,939.35 546.95,937.97 547.10,936.60 C547.25,935.23 548.07,933.85 546.30,932.50 C544.53,931.15 540.03,929.85 536.50,928.50 C532.97,927.15 527.43,925.77 525.10,924.40 C522.77,923.03 522.37,921.65 522.50,920.30 C522.63,918.95 524.25,917.65 525.90,916.30 C527.55,914.95 531.10,913.57 532.40,912.20 C533.70,910.83 533.27,909.42 533.70,908.10 C534.13,906.78 533.95,905.57 535.00,904.30 C536.05,903.03 537.53,901.67 540.00,900.50 C542.47,899.33 546.97,898.43 549.80,897.30 C552.63,896.17 554.80,894.90 557.00,893.70 C559.20,892.50 561.67,891.13 563.00,890.10 C564.33,889.07 564.53,888.48 565.00,887.50 C565.47,886.52 565.45,885.65 565.80,884.20 C566.15,882.75 566.73,880.15 567.10,878.80 C567.48,877.45 567.71,877.00 568.05,876.10 C568.39,875.20 568.84,874.30 569.15,873.40 C569.46,872.50 569.76,872.07 569.90,870.70 C570.04,869.33 570.00,867.02 570.00,865.20 C570.00,863.38 570.20,861.60 569.90,859.80 C569.60,858.00 568.57,855.75 568.20,854.40 C567.83,853.05 567.78,852.60 567.70,851.70 C567.62,850.80 567.50,850.35 567.70,849.00 C567.90,847.65 568.53,845.42 568.90,843.60 C569.27,841.78 569.72,839.38 569.90,838.10 C570.08,836.82 569.98,836.27 570.00,835.90 Z" fill="#fb3a40" stroke="none"/>
<line x1="541.85" y1="906.9" x2="598.15" y2="906.9" stroke="#000" stroke-width="1.8" stroke-dasharray="1.7 3.76"/>
<line x1="523.26" y1="921.5" x2="616.74" y2="921.5" stroke="#000" stroke-width="2.3" stroke-dasharray="5.5 3.56"/>
<line x1="552.77" y1="935" x2="587.23" y2="935" stroke="#000" stroke-width="1.8" stroke-dasharray="1.7 3.76"/>
<path d="M570.00,835.90 C570.02,836.27 569.92,836.82 570.10,838.10 C570.28,839.38 570.73,841.78 571.10,843.60 C571.47,845.42 572.10,847.65 572.30,849.00 C572.50,850.35 572.38,850.80 572.30,851.70 C572.22,852.60 572.17,853.05 571.80,854.40 C571.43,855.75 570.40,858.00 570.10,859.80 C569.80,861.60 570.00,863.38 570.00,865.20 C570.00,867.02 569.96,869.33 570.10,870.70 C570.24,872.07 570.54,872.50 570.85,873.40 C571.16,874.30 571.61,875.20 571.95,876.10 C572.29,877.00 572.52,877.45 572.90,878.80 C573.27,880.15 573.85,882.75 574.20,884.20 C574.55,885.65 574.53,886.52 575.00,887.50 C575.47,888.48 575.67,889.07 577.00,890.10 C578.33,891.13 580.80,892.50 583.00,893.70 C585.20,894.90 587.37,896.17 590.20,897.30 C593.03,898.43 597.53,899.33 600.00,900.50 C602.47,901.67 603.95,903.03 605.00,904.30 C606.05,905.57 605.87,906.78 606.30,908.10 C606.73,909.42 606.30,910.83 607.60,912.20 C608.90,913.57 612.45,914.95 614.10,916.30 C615.75,917.65 617.37,918.95 617.50,920.30 C617.63,921.65 617.23,923.03 614.90,924.40 C612.57,925.77 607.03,927.15 603.50,928.50 C599.97,929.85 595.47,931.15 593.70,932.50 C591.93,933.85 592.75,935.23 592.90,936.60 C593.05,937.97 594.73,939.35 594.60,940.70 C594.47,942.05 593.60,943.35 592.10,944.70 C590.60,946.05 587.77,947.45 585.60,948.80 C583.43,950.15 581.07,951.45 579.10,952.80 C577.13,954.15 575.07,955.53 573.80,956.90 C572.53,958.27 571.75,959.65 571.50,961.00 C571.25,962.35 572.10,963.65 572.30,965.00 C572.50,966.35 572.83,967.73 572.70,969.10 C572.57,970.47 571.90,971.85 571.50,973.20 C571.10,974.55 570.55,975.18 570.30,977.20 C570.05,979.22 570.05,983.95 570.00,985.30 L570.00,985.30 C569.95,983.95 569.95,979.22 569.70,977.20 C569.45,975.18 568.90,974.55 568.50,973.20 C568.10,971.85 567.43,970.47 567.30,969.10 C567.17,967.73 567.50,966.35 567.70,965.00 C567.90,963.65 568.75,962.35 568.50,961.00 C568.25,959.65 567.47,958.27 566.20,956.90 C564.93,955.53 562.87,954.15 560.90,952.80 C558.93,951.45 556.57,950.15 554.40,948.80 C552.23,947.45 549.40,946.05 547.90,944.70 C546.40,943.35 545.53,942.05 545.40,940.70 C545.27,939.35 546.95,937.97 547.10,936.60 C547.25,935.23 548.07,933.85 546.30,932.50 C544.53,931.15 540.03,929.85 536.50,928.50 C532.97,927.15 527.43,925.77 525.10,924.40 C522.77,923.03 522.37,921.65 522.50,920.30 C522.63,918.95 524.25,917.65 525.90,916.30 C527.55,914.95 531.10,913.57 532.40,912.20 C533.70,910.83 533.27,909.42 533.70,908.10 C534.13,906.78 533.95,905.57 535.00,904.30 C536.05,903.03 537.53,901.67 540.00,900.50 C542.47,899.33 546.97,898.43 549.80,897.30 C552.63,896.17 554.80,894.90 557.00,893.70 C559.20,892.50 561.67,891.13 563.00,890.10 C564.33,889.07 564.53,888.48 565.00,887.50 C565.47,886.52 565.45,885.65 565.80,884.20 C566.15,882.75 566.73,880.15 567.10,878.80 C567.48,877.45 567.71,877.00 568.05,876.10 C568.39,875.20 568.84,874.30 569.15,873.40 C569.46,872.50 569.76,872.07 569.90,870.70 C570.04,869.33 570.00,867.02 570.00,865.20 C570.00,863.38 570.20,861.60 569.90,859.80 C569.60,858.00 568.57,855.75 568.20,854.40 C567.83,853.05 567.78,852.60 567.70,851.70 C567.62,850.80 567.50,850.35 567.70,849.00 C567.90,847.65 568.53,845.42 568.90,843.60 C569.27,841.78 569.72,839.38 569.90,838.10 C570.08,836.82 569.98,836.27 570.00,835.90 Z" fill="none" stroke="#000" stroke-width="5.9" stroke-linejoin="round" stroke-linecap="round"/>
<path d="M723.00,887.80 C723.00,887.97 722.77,887.88 723.00,888.80 C723.23,889.72 724.02,891.80 724.35,893.30 C724.68,894.80 724.91,896.67 725.00,897.80 C725.09,898.93 725.03,899.35 724.90,900.10 C724.77,900.85 724.50,901.55 724.20,902.30 C723.90,903.05 723.30,903.47 723.10,904.60 C722.90,905.73 722.98,907.75 723.00,909.10 C723.02,910.45 722.53,911.57 723.20,912.70 C723.87,913.83 725.45,914.62 727.00,915.90 C728.55,917.18 730.75,918.97 732.50,920.40 C734.25,921.83 736.17,923.35 737.50,924.50 C738.83,925.65 739.78,926.28 740.50,927.30 C741.22,928.32 742.18,929.45 741.80,930.60 C741.42,931.75 739.40,933.00 738.20,934.20 C737.00,935.40 734.63,936.67 734.60,937.80 C734.57,938.93 735.77,939.97 738.00,941.00 C740.23,942.03 744.00,943.00 748.00,944.00 C752.00,945.00 758.25,945.97 762.00,947.00 C765.75,948.03 770.33,949.15 770.50,950.20 C770.67,951.25 765.67,952.25 763.00,953.30 C760.33,954.35 756.60,955.33 754.50,956.50 C752.40,957.67 751.43,959.10 750.40,960.30 C749.37,961.50 749.32,962.57 748.30,963.70 C747.28,964.83 745.98,965.97 744.30,967.10 C742.62,968.23 740.23,969.37 738.20,970.50 C736.17,971.63 733.92,972.78 732.10,973.90 C730.28,975.02 728.27,976.08 727.30,977.20 C726.33,978.32 726.68,979.47 726.30,980.60 C725.92,981.73 725.45,982.87 725.00,984.00 C724.55,985.13 723.93,986.18 723.60,987.40 C723.27,988.62 723.10,990.65 723.00,991.30 L723.00,991.30 C722.90,990.65 722.73,988.62 722.40,987.40 C722.07,986.18 721.45,985.13 721.00,984.00 C720.55,982.87 720.08,981.73 719.70,980.60 C719.32,979.47 719.67,978.32 718.70,977.20 C717.73,976.08 715.72,975.02 713.90,973.90 C712.08,972.78 709.83,971.63 707.80,970.50 C705.77,969.37 703.38,968.23 701.70,967.10 C700.02,965.97 698.72,964.83 697.70,963.70 C696.68,962.57 696.63,961.50 695.60,960.30 C694.57,959.10 693.60,957.67 691.50,956.50 C689.40,955.33 685.67,954.35 683.00,953.30 C680.33,952.25 675.33,951.25 675.50,950.20 C675.67,949.15 680.25,948.03 684.00,947.00 C687.75,945.97 694.00,945.00 698.00,944.00 C702.00,943.00 705.77,942.03 708.00,941.00 C710.23,939.97 711.43,938.93 711.40,937.80 C711.37,936.67 709.00,935.40 707.80,934.20 C706.60,933.00 704.58,931.75 704.20,930.60 C703.82,929.45 704.78,928.32 705.50,927.30 C706.22,926.28 707.17,925.65 708.50,924.50 C709.83,923.35 711.75,921.83 713.50,920.40 C715.25,918.97 717.45,917.18 719.00,915.90 C720.55,914.62 722.13,913.83 722.80,912.70 C723.47,911.57 722.98,910.45 723.00,909.10 C723.02,907.75 723.10,905.73 722.90,904.60 C722.70,903.47 722.10,903.05 721.80,902.30 C721.50,901.55 721.23,900.85 721.10,900.10 C720.97,899.35 720.91,898.93 721.00,897.80 C721.09,896.67 721.32,894.80 721.65,893.30 C721.98,891.80 722.77,889.72 723.00,888.80 C723.23,887.88 723.00,887.97 723.00,887.80 Z" fill="#fb3a40" stroke="none"/>
<line x1="716.69" y1="942.2" x2="729.31" y2="942.2" stroke="#000" stroke-width="1.8" stroke-dasharray="1.7 3.76"/>
<line x1="675.50" y1="950.2" x2="770.50" y2="950.2" stroke="#000" stroke-width="2.3" stroke-dasharray="5.5 3.56"/>
<line x1="700.31" y1="960.7" x2="745.69" y2="960.7" stroke="#000" stroke-width="1.8" stroke-dasharray="1.7 3.76"/>
<path d="M723.00,887.80 C723.00,887.97 722.77,887.88 723.00,888.80 C723.23,889.72 724.02,891.80 724.35,893.30 C724.68,894.80 724.91,896.67 725.00,897.80 C725.09,898.93 725.03,899.35 724.90,900.10 C724.77,900.85 724.50,901.55 724.20,902.30 C723.90,903.05 723.30,903.47 723.10,904.60 C722.90,905.73 722.98,907.75 723.00,909.10 C723.02,910.45 722.53,911.57 723.20,912.70 C723.87,913.83 725.45,914.62 727.00,915.90 C728.55,917.18 730.75,918.97 732.50,920.40 C734.25,921.83 736.17,923.35 737.50,924.50 C738.83,925.65 739.78,926.28 740.50,927.30 C741.22,928.32 742.18,929.45 741.80,930.60 C741.42,931.75 739.40,933.00 738.20,934.20 C737.00,935.40 734.63,936.67 734.60,937.80 C734.57,938.93 735.77,939.97 738.00,941.00 C740.23,942.03 744.00,943.00 748.00,944.00 C752.00,945.00 758.25,945.97 762.00,947.00 C765.75,948.03 770.33,949.15 770.50,950.20 C770.67,951.25 765.67,952.25 763.00,953.30 C760.33,954.35 756.60,955.33 754.50,956.50 C752.40,957.67 751.43,959.10 750.40,960.30 C749.37,961.50 749.32,962.57 748.30,963.70 C747.28,964.83 745.98,965.97 744.30,967.10 C742.62,968.23 740.23,969.37 738.20,970.50 C736.17,971.63 733.92,972.78 732.10,973.90 C730.28,975.02 728.27,976.08 727.30,977.20 C726.33,978.32 726.68,979.47 726.30,980.60 C725.92,981.73 725.45,982.87 725.00,984.00 C724.55,985.13 723.93,986.18 723.60,987.40 C723.27,988.62 723.10,990.65 723.00,991.30 L723.00,991.30 C722.90,990.65 722.73,988.62 722.40,987.40 C722.07,986.18 721.45,985.13 721.00,984.00 C720.55,982.87 720.08,981.73 719.70,980.60 C719.32,979.47 719.67,978.32 718.70,977.20 C717.73,976.08 715.72,975.02 713.90,973.90 C712.08,972.78 709.83,971.63 707.80,970.50 C705.77,969.37 703.38,968.23 701.70,967.10 C700.02,965.97 698.72,964.83 697.70,963.70 C696.68,962.57 696.63,961.50 695.60,960.30 C694.57,959.10 693.60,957.67 691.50,956.50 C689.40,955.33 685.67,954.35 683.00,953.30 C680.33,952.25 675.33,951.25 675.50,950.20 C675.67,949.15 680.25,948.03 684.00,947.00 C687.75,945.97 694.00,945.00 698.00,944.00 C702.00,943.00 705.77,942.03 708.00,941.00 C710.23,939.97 711.43,938.93 711.40,937.80 C711.37,936.67 709.00,935.40 707.80,934.20 C706.60,933.00 704.58,931.75 704.20,930.60 C703.82,929.45 704.78,928.32 705.50,927.30 C706.22,926.28 707.17,925.65 708.50,924.50 C709.83,923.35 711.75,921.83 713.50,920.40 C715.25,918.97 717.45,917.18 719.00,915.90 C720.55,914.62 722.13,913.83 722.80,912.70 C723.47,911.57 722.98,910.45 723.00,909.10 C723.02,907.75 723.10,905.73 722.90,904.60 C722.70,903.47 722.10,903.05 721.80,902.30 C721.50,901.55 721.23,900.85 721.10,900.10 C720.97,899.35 720.91,898.93 721.00,897.80 C721.09,896.67 721.32,894.80 721.65,893.30 C721.98,891.80 722.77,889.72 723.00,888.80 C723.23,887.88 723.00,887.97 723.00,887.80 Z" fill="none" stroke="#000" stroke-width="5.9" stroke-linejoin="round" stroke-linecap="round"/>
<text x="569.7" y="113.44999999999999" font-size="24.5" stroke="#000" stroke-width="0.5">*</text>
<text x="714.5500000000001" y="95.94999999999999" font-size="24.5" stroke="#000" stroke-width="0.5">*</text>
<text x="726" y="100.2" font-size="31" stroke="#000" stroke-width="0.5">#</text>
<text x="1465.1" y="160.1" font-size="24.5" stroke="#000" stroke-width="0.5">*</text>
<text x="1609.75" y="134.45" font-size="24.5" stroke="#000" stroke-width="0.5">*</text>
<text x="1620.7" y="139" font-size="31" stroke="#000" stroke-width="0.5">#</text>
<text x="570.3000000000001" y="816.7" font-size="24.5" stroke="#000" stroke-width="0.5">*</text>
<text x="713.35" y="866.45" font-size="24.5" stroke="#000" stroke-width="0.5">*</text>
<text x="724.8" y="871.2" font-size="31" stroke="#000" stroke-width="0.5">#</text>
</svg>
</body></html>
